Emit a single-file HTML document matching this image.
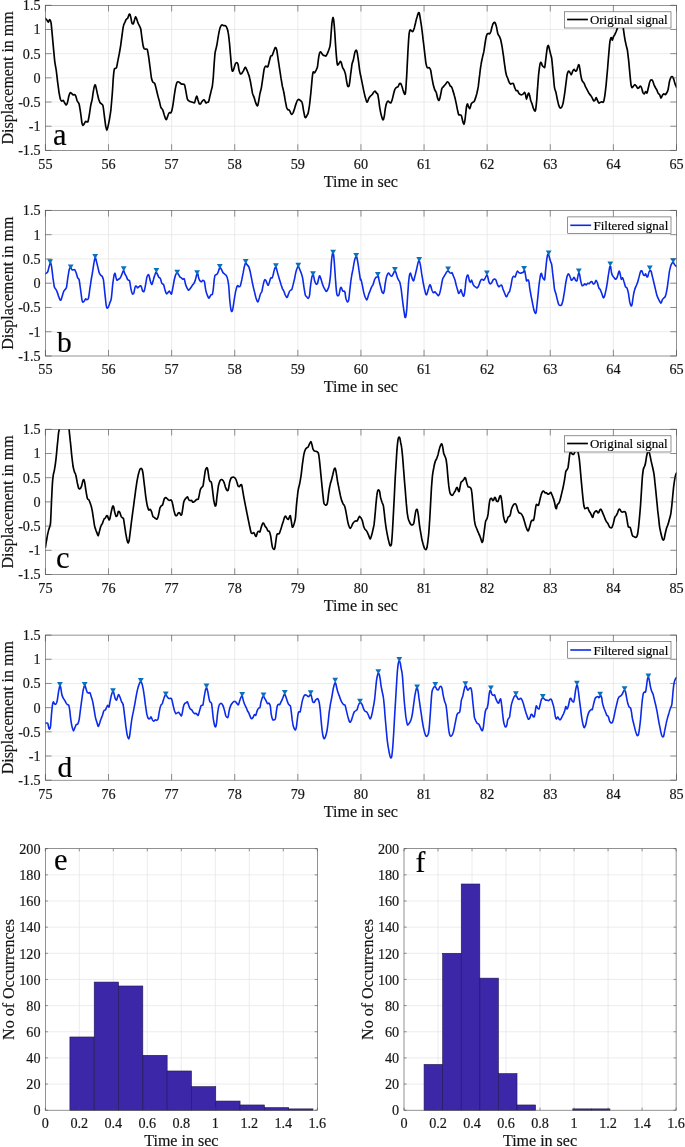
<!DOCTYPE html>
<html lang="en"><head><meta charset="utf-8"><title>Signal figure</title>
<style>html,body{margin:0;padding:0;background:#fff}svg{display:block}text{stroke:#111;stroke-width:0.18px}</style>
</head><body>
<svg width="685" height="1147" viewBox="0 0 685 1147" font-family="'Liberation Serif', 'DejaVu Serif', serif" fill="#151515">
<rect width="685" height="1147" fill="#fff"/>
<g>
<clipPath id="cp0"><rect x="45.4" y="5.3" width="631.1" height="145.1"/></clipPath>
<path d="M108.51,5.3 V150.4 M171.62,5.3 V150.4 M234.73,5.3 V150.4 M297.84,5.3 V150.4 M360.95,5.3 V150.4 M424.06,5.3 V150.4 M487.17,5.3 V150.4 M550.28,5.3 V150.4 M613.39,5.3 V150.4" stroke="#e2e2e2" stroke-width="0.7" fill="none"/>
<path d="M45.4,29.48 H676.5 M45.4,53.67 H676.5 M45.4,77.85 H676.5 M45.4,102.03 H676.5 M45.4,126.22 H676.5" stroke="#e4e4e4" stroke-width="0.7" fill="none"/>
<path d="M45.2,18.2 C45.4,18.5 46.5,19.6 46.9,20.1 C47.3,20.6 47.9,22.3 48.3,22.2 C48.6,22.1 49.3,19.5 49.7,19.6 C50.0,19.7 50.7,20.6 51.1,22.9 C51.4,25.2 52.1,33.5 52.5,37.4 C52.8,41.2 53.6,49.4 53.9,52.6 C54.2,55.7 54.5,59.6 54.8,61.9 C55.1,64.2 55.8,67.5 56.2,70.1 C56.6,72.7 57.2,78.9 57.6,81.8 C58.0,84.6 58.7,90.0 59.0,92.3 C59.4,94.5 60.1,98.1 60.4,99.3 C60.8,100.4 61.5,101.0 61.8,101.1 C62.2,101.3 62.9,100.2 63.2,100.4 C63.6,100.7 64.3,102.2 64.6,102.8 C65.0,103.4 65.7,105.1 66.0,105.1 C66.4,105.1 67.1,103.9 67.4,102.8 C67.8,101.6 68.5,97.5 68.8,96.2 C69.2,94.9 69.9,93.1 70.2,92.7 C70.6,92.4 71.3,93.2 71.6,93.4 C72.0,93.7 72.7,94.7 73.0,94.8 C73.4,95.0 74.1,94.4 74.4,94.6 C74.8,94.8 75.5,95.4 75.8,96.2 C76.2,97.1 76.8,99.9 77.2,100.9 C77.7,101.9 78.7,102.5 79.1,103.9 C79.5,105.4 80.1,109.7 80.5,112.1 C80.9,114.5 81.6,120.9 81.9,122.6 C82.2,124.4 82.5,125.3 82.8,125.4 C83.1,125.6 83.9,124.3 84.2,123.8 C84.6,123.3 85.3,121.7 85.6,121.5 C86.0,121.2 86.7,121.9 87.0,121.9 C87.3,121.9 87.7,122.4 88.0,121.5 C88.3,120.5 89.0,116.6 89.4,114.5 C89.7,112.3 90.4,107.1 90.8,105.1 C91.1,103.1 91.8,101.2 92.2,99.3 C92.5,97.3 93.2,91.8 93.6,89.9 C93.9,88.0 94.7,85.2 95.0,84.8 C95.3,84.4 95.6,85.8 95.9,86.9 C96.2,88.0 97.0,91.8 97.3,93.4 C97.7,95.0 98.4,98.1 98.7,99.3 C99.1,100.5 99.8,102.2 100.1,102.8 C100.5,103.4 101.2,103.6 101.5,103.9 C101.9,104.3 102.6,104.1 102.9,105.6 C103.3,107.1 104.0,112.9 104.3,115.6 C104.7,118.3 105.4,124.2 105.7,126.1 C106.1,128.0 106.6,130.3 106.9,130.3 C107.2,130.3 107.7,127.6 108.1,126.1 C108.4,124.7 109.1,121.2 109.5,119.1 C109.8,117.0 110.5,113.1 110.9,109.8 C111.2,106.4 112.0,97.4 112.3,93.4 C112.6,89.5 113.0,82.5 113.2,79.4 C113.4,76.4 113.9,71.5 114.1,70.1 C114.4,68.6 114.8,68.7 115.1,68.4 C115.4,68.1 116.1,68.7 116.5,67.7 C116.8,66.7 117.5,62.6 117.9,60.7 C118.2,58.9 118.9,55.7 119.3,53.7 C119.6,51.7 120.3,48.0 120.7,45.5 C121.0,43.1 121.7,37.6 122.1,35.0 C122.4,32.5 123.1,27.3 123.5,25.7 C123.8,24.1 124.5,23.3 124.9,22.4 C125.2,21.6 125.9,19.7 126.3,19.2 C126.6,18.6 127.3,18.8 127.7,18.2 C128.1,17.6 128.8,15.0 129.1,14.5 C129.4,14.0 129.8,14.0 130.0,14.5 C130.3,15.0 130.7,17.1 131.0,18.2 C131.2,19.3 131.6,22.2 131.9,22.9 C132.2,23.6 132.9,24.3 133.3,23.8 C133.7,23.3 134.4,20.1 134.7,19.2 C135.0,18.2 135.4,16.9 135.6,16.8 C135.9,16.8 136.3,17.9 136.6,18.7 C136.9,19.5 137.6,22.0 138.0,22.9 C138.3,23.8 139.0,24.9 139.4,25.7 C139.7,26.5 140.5,27.8 140.8,29.2 C141.1,30.6 141.4,34.1 141.7,36.2 C142.0,38.3 142.8,44.0 143.1,45.5 C143.4,47.1 143.7,47.9 144.0,48.4 C144.3,48.8 145.0,48.9 145.4,49.1 C145.9,49.2 146.9,48.5 147.3,49.5 C147.7,50.6 148.3,54.9 148.7,57.2 C149.1,59.6 149.7,65.0 150.1,67.7 C150.5,70.5 151.1,76.4 151.5,78.2 C151.9,80.1 152.5,81.5 152.9,82.2 C153.3,82.9 154.4,82.8 154.8,83.6 C155.2,84.5 155.8,87.3 156.2,88.8 C156.5,90.2 157.2,92.9 157.6,94.6 C158.0,96.3 159.0,99.9 159.5,101.6 C159.9,103.3 160.4,106.4 160.9,107.4 C161.3,108.5 162.3,108.9 162.7,109.8 C163.1,110.7 163.8,113.3 164.1,114.5 C164.5,115.6 165.2,118.0 165.5,118.7 C165.8,119.3 166.2,120.0 166.5,119.6 C166.8,119.2 167.5,116.5 167.9,115.6 C168.2,114.7 168.8,113.0 169.3,112.6 C169.7,112.2 170.7,113.3 171.1,112.6 C171.6,111.9 172.2,109.3 172.5,107.4 C172.9,105.6 173.6,100.5 173.9,98.1 C174.3,95.7 175.0,90.7 175.3,88.8 C175.7,86.8 176.4,83.8 176.7,82.9 C177.0,82.0 177.3,81.8 177.7,81.8 C178.0,81.7 179.1,82.1 179.5,82.5 C180.0,82.8 180.9,83.9 181.4,84.1 C181.9,84.3 182.9,83.9 183.3,84.1 C183.7,84.2 184.3,84.2 184.7,85.3 C185.0,86.3 185.7,90.4 186.1,92.3 C186.4,94.1 187.1,98.1 187.5,99.3 C187.8,100.4 188.5,100.6 188.9,100.9 C189.3,101.2 190.3,101.7 190.8,101.8 C191.2,102.0 192.1,102.2 192.6,102.3 C193.1,102.4 194.1,103.3 194.5,102.8 C194.9,102.2 195.6,99.0 195.9,98.1 C196.2,97.3 196.6,96.1 196.8,96.2 C197.1,96.4 197.5,98.3 197.8,99.3 C198.1,100.2 198.8,102.9 199.2,103.5 C199.5,104.1 200.2,104.2 200.6,103.9 C200.9,103.7 201.6,102.1 202.0,101.6 C202.3,101.1 203.0,100.2 203.4,100.0 C203.7,99.8 204.1,99.6 204.4,100.0 C204.7,100.3 205.4,102.5 205.8,102.8 C206.2,103.1 206.8,102.5 207.2,102.3 C207.6,102.2 208.2,102.5 208.6,101.6 C209.0,100.8 209.6,97.3 210.0,95.8 C210.4,94.2 211.1,91.1 211.4,89.9 C211.7,88.7 212.1,88.1 212.3,86.4 C212.6,84.8 213.0,80.1 213.3,77.1 C213.5,74.0 214.0,66.3 214.2,63.1 C214.5,59.9 214.8,54.7 215.1,52.6 C215.4,50.4 216.2,48.5 216.5,46.7 C216.9,44.9 217.6,40.7 217.9,38.5 C218.3,36.4 219.0,32.0 219.4,30.4 C219.7,28.8 220.4,26.9 220.8,26.2 C221.1,25.4 221.8,24.8 222.2,24.8 C222.5,24.7 223.1,25.6 223.6,25.7 C224.0,25.8 225.0,25.5 225.4,25.7 C225.8,25.9 226.5,26.7 226.8,27.6 C227.2,28.5 227.9,30.5 228.2,32.7 C228.6,34.9 229.3,41.3 229.6,44.4 C229.9,47.4 230.3,53.2 230.6,56.1 C230.8,58.9 231.3,64.6 231.5,66.6 C231.7,68.5 232.1,70.9 232.4,71.2 C232.7,71.5 233.5,69.8 233.8,68.9 C234.2,68.0 234.9,65.1 235.2,64.2 C235.6,63.4 236.3,62.6 236.6,62.6 C237.0,62.6 237.7,63.3 238.0,64.2 C238.3,65.2 238.7,68.8 239.0,70.1 C239.3,71.3 240.0,73.4 240.4,73.8 C240.7,74.2 241.4,73.7 241.8,73.3 C242.1,73.0 242.8,71.9 243.2,71.2 C243.5,70.6 244.3,68.7 244.6,68.2 C244.9,67.7 245.2,67.0 245.5,67.3 C245.8,67.5 246.5,69.3 246.9,70.1 C247.3,70.9 247.9,72.5 248.3,73.6 C248.7,74.6 249.4,76.7 249.7,78.2 C250.1,79.8 250.8,83.3 251.1,85.3 C251.5,87.2 252.2,91.9 252.5,93.4 C252.9,94.9 253.6,95.9 253.9,96.9 C254.3,98.0 255.0,100.5 255.3,101.6 C255.7,102.7 256.4,104.6 256.7,105.1 C257.0,105.6 257.4,106.0 257.7,105.6 C257.9,105.1 258.3,103.2 258.6,101.6 C258.9,100.0 259.6,95.3 260.0,93.4 C260.4,91.6 261.0,89.6 261.4,87.6 C261.8,85.6 262.4,80.7 262.8,78.2 C263.2,75.8 263.8,70.5 264.2,68.9 C264.6,67.3 265.2,66.4 265.6,66.1 C266.0,65.8 266.7,66.7 267.0,66.8 C267.3,66.9 267.6,67.3 267.9,66.6 C268.2,65.8 269.0,62.6 269.3,61.2 C269.7,59.8 270.4,56.8 270.7,56.1 C271.1,55.3 271.8,56.1 272.1,55.6 C272.5,55.0 273.2,52.8 273.5,51.9 C273.9,50.9 274.6,48.7 274.9,48.1 C275.2,47.6 275.6,47.4 275.9,47.6 C276.1,47.9 276.5,48.7 276.8,50.2 C277.1,51.8 277.8,57.1 278.2,59.6 C278.6,62.0 279.2,66.5 279.6,68.9 C280.0,71.3 280.7,76.0 281.0,78.2 C281.4,80.5 282.1,84.6 282.4,86.4 C282.8,88.2 283.5,90.4 283.8,92.3 C284.2,94.1 284.9,98.5 285.2,100.4 C285.6,102.4 286.3,106.2 286.6,107.4 C287.0,108.7 287.7,109.4 288.0,109.8 C288.4,110.1 289.1,109.8 289.4,110.2 C289.8,110.7 290.5,112.7 290.8,113.3 C291.1,113.8 291.5,114.5 291.8,114.5 C292.1,114.4 292.8,113.3 293.2,112.6 C293.5,111.8 294.2,109.7 294.6,108.6 C294.9,107.5 295.6,105.0 296.0,103.9 C296.3,102.9 297.0,101.0 297.4,100.4 C297.7,99.8 298.4,99.3 298.8,99.3 C299.1,99.3 299.7,100.0 300.2,100.4 C300.6,100.8 301.6,101.1 302.0,102.3 C302.5,103.5 303.1,107.9 303.4,109.8 C303.8,111.7 304.5,115.8 304.8,116.8 C305.1,117.8 305.5,117.7 305.8,117.5 C306.1,117.2 306.9,115.5 307.2,114.9 C307.5,114.4 307.8,114.6 308.1,113.3 C308.4,112.0 309.1,107.8 309.5,105.1 C309.9,102.4 310.5,95.9 310.9,92.3 C311.3,88.6 312.0,79.7 312.3,77.1 C312.6,74.4 312.9,72.5 313.2,71.9 C313.6,71.4 314.3,73.1 314.6,72.9 C315.0,72.6 315.7,70.9 316.1,70.1 C316.4,69.3 317.1,68.4 317.5,66.6 C317.8,64.7 318.5,58.0 318.9,56.1 C319.2,54.1 319.9,52.2 320.3,51.9 C320.6,51.5 321.3,52.8 321.7,53.3 C322.0,53.7 322.7,54.8 323.1,55.1 C323.4,55.4 324.1,55.5 324.5,55.6 C324.8,55.7 325.5,56.3 325.9,56.1 C326.2,55.8 326.9,54.5 327.3,53.7 C327.6,53.0 328.3,51.3 328.7,50.2 C329.0,49.2 329.8,47.5 330.1,45.5 C330.4,43.6 330.8,37.9 331.0,35.0 C331.2,32.2 331.7,25.6 331.9,23.4 C332.2,21.1 332.6,17.8 332.9,17.5 C333.1,17.2 333.6,19.2 333.8,21.0 C334.0,22.8 334.5,28.2 334.7,31.5 C335.0,34.9 335.4,43.2 335.7,46.7 C335.9,50.2 336.4,56.0 336.6,58.4 C336.8,60.8 337.2,64.3 337.5,64.9 C337.8,65.6 338.6,64.0 338.9,63.5 C339.3,63.1 340.0,61.6 340.3,61.4 C340.6,61.3 341.0,61.8 341.3,62.6 C341.6,63.4 342.3,66.8 342.7,67.7 C343.0,68.7 343.7,69.2 344.1,70.1 C344.4,70.9 345.1,72.6 345.5,74.3 C345.8,75.9 346.6,81.3 346.9,82.9 C347.2,84.5 347.5,86.1 347.8,86.4 C348.1,86.7 348.9,86.8 349.2,85.3 C349.6,83.7 350.3,77.5 350.6,74.7 C351.0,72.0 351.7,66.2 352.0,64.2 C352.4,62.3 353.1,61.1 353.4,59.6 C353.8,58.0 354.5,53.8 354.8,52.6 C355.2,51.3 355.9,50.2 356.2,50.2 C356.5,50.2 356.9,51.0 357.2,52.6 C357.5,54.1 358.2,59.3 358.6,61.9 C358.9,64.5 359.6,70.4 360.0,72.4 C360.3,74.4 360.7,75.6 361.0,77.1 C361.3,78.6 362.0,82.3 362.4,84.1 C362.8,85.9 363.4,89.4 363.8,91.1 C364.2,92.8 364.8,95.6 365.2,96.9 C365.6,98.3 366.3,101.0 366.6,101.6 C366.9,102.2 367.2,102.3 367.5,101.8 C367.8,101.4 368.6,98.8 368.9,98.1 C369.3,97.4 369.9,96.7 370.3,96.2 C370.8,95.8 371.8,95.1 372.2,94.6 C372.6,94.1 373.2,92.7 373.6,92.3 C374.0,91.8 374.7,91.0 375.0,91.1 C375.4,91.2 376.1,92.5 376.4,93.0 C376.8,93.4 377.5,93.6 377.8,94.6 C378.1,95.6 378.5,98.8 378.8,100.4 C379.0,102.1 379.4,105.6 379.7,107.4 C380.0,109.3 380.7,112.9 381.1,114.5 C381.5,116.0 382.2,118.5 382.5,119.1 C382.8,119.8 383.2,120.0 383.4,119.6 C383.7,119.1 384.1,117.0 384.4,115.6 C384.6,114.2 385.0,110.3 385.3,108.6 C385.6,106.9 386.3,103.7 386.7,102.8 C387.1,101.8 387.7,101.2 388.1,101.1 C388.5,101.1 389.1,102.1 389.5,102.3 C389.9,102.5 390.5,103.2 390.9,102.8 C391.3,102.4 391.9,100.5 392.3,99.3 C392.7,98.1 393.3,94.8 393.7,93.4 C394.1,92.1 394.7,89.5 395.1,88.8 C395.5,88.0 396.1,87.6 396.5,87.4 C396.9,87.1 397.5,87.3 397.9,86.9 C398.3,86.5 399.0,84.5 399.3,84.1 C399.6,83.6 399.9,83.2 400.2,83.4 C400.5,83.5 401.3,84.4 401.6,85.3 C402.0,86.1 402.7,88.8 403.0,89.9 C403.4,91.1 404.1,93.4 404.4,93.9 C404.7,94.4 405.1,95.0 405.4,93.4 C405.6,91.9 406.1,85.4 406.3,81.8 C406.6,78.1 407.0,70.0 407.2,65.4 C407.5,60.8 407.9,50.8 408.2,46.7 C408.4,42.6 408.9,36.1 409.1,33.9 C409.4,31.7 409.7,30.3 410.1,29.9 C410.4,29.5 411.1,30.6 411.5,30.8 C411.8,31.0 412.5,31.9 412.9,31.5 C413.2,31.2 413.9,29.2 414.3,28.0 C414.6,26.8 415.3,23.6 415.7,22.2 C416.0,20.7 416.7,18.0 417.1,16.8 C417.4,15.6 418.2,13.3 418.5,12.8 C418.8,12.4 419.2,12.8 419.4,13.5 C419.6,14.3 420.0,16.8 420.3,18.7 C420.6,20.6 421.4,25.3 421.7,28.0 C422.1,30.8 422.8,36.7 423.1,39.7 C423.5,42.7 424.2,48.4 424.5,51.4 C424.9,54.4 425.6,60.9 425.9,63.1 C426.3,65.2 426.9,67.1 427.3,67.7 C427.8,68.3 428.8,67.4 429.2,67.7 C429.6,68.0 430.2,68.7 430.6,70.1 C431.0,71.4 431.6,76.3 432.0,78.2 C432.4,80.2 433.0,83.7 433.4,85.3 C433.8,86.8 434.4,89.0 434.8,89.9 C435.2,90.8 435.8,91.2 436.2,92.3 C436.6,93.3 437.2,97.0 437.6,98.1 C438.0,99.2 438.7,100.7 439.0,100.4 C439.4,100.1 440.1,97.3 440.4,95.8 C440.8,94.2 441.5,89.9 441.8,88.8 C442.2,87.6 442.9,87.3 443.2,86.9 C443.6,86.4 444.3,85.7 444.6,85.3 C445.0,84.8 445.7,84.1 446.0,83.6 C446.4,83.2 447.1,81.8 447.4,81.8 C447.8,81.7 448.5,82.4 448.8,82.9 C449.2,83.5 449.9,85.4 450.2,86.0 C450.6,86.5 451.3,86.2 451.6,86.9 C452.0,87.6 452.7,89.9 453.0,91.1 C453.4,92.2 454.1,94.4 454.4,95.8 C454.8,97.1 455.5,99.9 455.8,101.6 C456.2,103.3 456.9,106.9 457.2,108.6 C457.6,110.3 458.3,113.6 458.6,114.5 C459.0,115.3 459.7,114.8 460.0,114.9 C460.4,115.1 461.1,114.8 461.4,115.6 C461.8,116.5 462.5,120.3 462.8,121.5 C463.1,122.6 463.5,124.3 463.8,124.3 C464.0,124.3 464.5,122.7 464.7,121.5 C465.0,120.2 465.4,116.4 465.6,114.5 C465.9,112.5 466.3,107.6 466.6,106.3 C466.8,104.9 467.3,103.9 467.5,103.9 C467.8,103.9 468.1,105.7 468.4,106.3 C468.7,106.9 469.5,108.9 469.8,108.6 C470.2,108.3 470.9,104.8 471.2,103.9 C471.6,103.1 472.3,102.6 472.6,102.3 C473.0,102.0 473.7,102.2 474.1,101.6 C474.4,101.1 475.1,99.2 475.5,98.1 C475.8,97.0 476.5,94.9 476.9,93.4 C477.2,91.9 477.9,88.9 478.3,86.4 C478.6,84.0 479.3,77.6 479.7,74.7 C480.0,71.9 480.7,66.5 481.1,64.2 C481.4,62.0 482.1,58.9 482.5,57.2 C482.8,55.6 483.5,53.4 483.9,51.4 C484.2,49.4 484.9,44.2 485.3,42.0 C485.6,39.9 486.3,36.2 486.7,35.0 C487.0,33.9 487.7,33.6 488.1,33.4 C488.4,33.2 489.1,34.1 489.5,33.9 C489.8,33.6 490.5,32.6 490.9,31.5 C491.2,30.5 491.9,26.8 492.3,25.7 C492.6,24.6 493.3,23.3 493.7,22.9 C494.0,22.5 494.7,22.1 495.1,22.7 C495.4,23.2 496.1,25.4 496.5,26.9 C496.8,28.3 497.5,32.7 497.9,33.9 C498.2,35.1 498.9,35.4 499.3,36.2 C499.6,37.0 500.3,38.3 500.7,39.7 C501.0,41.1 501.7,44.6 502.1,46.7 C502.4,48.8 503.1,53.5 503.5,56.1 C503.8,58.6 504.5,64.1 504.9,66.6 C505.2,69.0 505.9,73.2 506.3,74.7 C506.6,76.3 507.3,77.3 507.7,78.2 C508.1,79.2 508.7,81.5 509.1,82.2 C509.5,83.0 510.1,83.9 510.5,84.1 C510.9,84.3 511.5,83.7 511.9,83.6 C512.3,83.6 512.9,83.1 513.3,83.6 C513.7,84.1 514.3,86.7 514.7,87.6 C515.1,88.5 515.7,90.2 516.1,90.6 C516.5,91.0 517.1,90.3 517.5,90.6 C517.9,91.0 518.6,92.9 519.0,93.4 C519.4,93.9 520.0,94.4 520.4,94.6 C520.8,94.8 521.4,94.9 521.8,94.8 C522.2,94.7 522.8,94.2 523.2,93.9 C523.6,93.6 524.3,92.2 524.6,92.3 C524.9,92.4 525.3,93.7 525.5,94.6 C525.8,95.5 526.2,99.3 526.5,99.3 C526.8,99.3 527.6,95.4 527.9,94.6 C528.2,93.8 528.6,92.8 528.8,93.0 C529.1,93.1 529.5,94.8 529.7,95.8 C530.0,96.7 530.4,99.4 530.7,100.4 C531.0,101.5 531.7,102.9 532.1,103.9 C532.4,105.0 533.1,107.7 533.5,108.6 C533.8,109.6 534.6,111.2 534.9,111.2 C535.2,111.2 535.6,110.2 535.8,108.6 C536.1,107.1 536.5,102.2 536.8,99.3 C537.0,96.4 537.4,89.6 537.7,86.4 C537.9,83.2 538.4,77.3 538.6,74.7 C538.9,72.2 539.3,68.1 539.6,66.6 C539.8,65.0 540.2,63.1 540.5,62.6 C540.7,62.1 541.2,62.6 541.4,63.1 C541.7,63.5 542.1,65.4 542.4,65.9 C542.7,66.4 543.5,66.6 543.8,66.8 C544.1,67.0 544.5,68.1 544.7,67.3 C544.9,66.5 545.4,62.6 545.6,60.7 C545.9,58.8 546.3,54.4 546.6,52.6 C546.8,50.7 547.3,47.6 547.5,46.7 C547.7,45.8 548.2,45.2 548.4,45.5 C548.7,45.9 549.1,47.8 549.4,49.1 C549.7,50.3 550.5,53.7 550.8,54.9 C551.1,56.1 551.5,56.7 551.7,58.4 C551.9,60.1 552.4,65.2 552.6,67.7 C552.9,70.3 553.3,75.7 553.6,78.2 C553.8,80.8 554.2,85.8 554.5,87.6 C554.8,89.4 555.5,90.7 555.9,92.3 C556.3,93.8 556.9,97.6 557.3,99.3 C557.7,100.9 558.3,104.0 558.7,105.1 C559.1,106.2 559.7,107.6 560.1,107.9 C560.5,108.2 561.1,108.0 561.5,107.4 C561.9,106.9 562.5,105.5 562.9,103.9 C563.3,102.4 563.9,98.2 564.3,95.8 C564.7,93.3 565.4,88.0 565.7,85.3 C566.1,82.5 566.8,76.6 567.1,74.7 C567.5,72.9 568.2,71.5 568.5,71.2 C568.9,70.9 569.6,72.0 569.9,72.4 C570.3,72.9 571.0,74.9 571.3,74.7 C571.7,74.6 572.4,71.9 572.7,71.2 C573.1,70.5 573.8,69.4 574.1,69.4 C574.5,69.4 575.2,71.1 575.5,71.2 C575.9,71.3 576.6,70.7 576.9,70.1 C577.2,69.5 577.6,67.3 577.9,66.6 C578.1,65.9 578.6,64.5 578.8,64.7 C579.0,64.9 579.5,66.4 579.7,67.7 C580.0,69.0 580.4,73.1 580.7,74.7 C581.0,76.4 581.6,79.5 582.1,80.6 C582.5,81.6 583.5,82.2 583.9,82.9 C584.4,83.7 584.9,85.5 585.3,86.4 C585.8,87.3 586.7,89.0 587.2,89.9 C587.7,90.8 588.6,92.7 589.1,93.4 C589.6,94.2 590.5,95.2 590.9,95.8 C591.4,96.4 592.0,97.4 592.3,98.1 C592.7,98.8 593.4,100.7 593.7,100.9 C594.1,101.1 594.8,100.4 595.1,100.0 C595.4,99.5 595.8,97.6 596.1,97.6 C596.4,97.7 597.1,99.7 597.5,100.4 C597.8,101.1 598.5,102.8 598.9,103.0 C599.2,103.3 599.9,102.5 600.3,102.3 C600.6,102.2 601.3,101.8 601.7,101.8 C602.1,101.8 602.8,102.5 603.1,102.3 C603.4,102.1 603.7,101.9 604.0,100.4 C604.3,99.0 605.1,94.1 605.4,91.1 C605.8,88.1 606.5,81.0 606.8,77.1 C607.2,73.1 607.9,65.0 608.2,60.7 C608.6,56.5 609.3,47.3 609.6,44.4 C609.9,41.5 610.3,39.4 610.6,38.5 C610.8,37.7 611.3,37.6 611.5,37.8 C611.7,38.1 612.2,40.3 612.4,40.2 C612.7,40.1 613.1,37.6 613.4,36.9 C613.7,36.2 614.4,35.3 614.8,34.6 C615.1,33.9 615.8,32.4 616.2,31.5 C616.5,30.6 617.2,28.6 617.6,27.6 C617.9,26.5 618.6,24.2 619.0,23.4 C619.3,22.5 620.0,21.2 620.4,21.0 C620.7,20.9 621.4,21.3 621.8,22.2 C622.1,23.0 622.8,25.6 623.2,27.6 C623.5,29.5 624.2,35.2 624.6,37.4 C624.9,39.6 625.6,42.7 626.0,44.4 C626.3,46.0 627.0,47.9 627.4,50.2 C627.7,52.5 628.4,58.4 628.8,61.9 C629.1,65.4 629.9,74.0 630.2,77.1 C630.5,80.1 630.9,83.9 631.1,85.3 C631.4,86.6 631.7,87.5 632.1,87.6 C632.4,87.7 633.1,86.4 633.5,86.0 C633.8,85.6 634.5,84.6 634.9,84.6 C635.2,84.6 635.9,85.5 636.3,86.0 C636.6,86.4 637.3,88.1 637.7,88.3 C638.0,88.5 638.7,87.9 639.1,87.6 C639.4,87.3 640.1,85.8 640.5,86.0 C640.8,86.1 641.6,87.9 641.9,88.8 C642.2,89.6 642.5,91.6 642.8,92.3 C643.1,92.9 643.8,94.0 644.2,93.9 C644.6,93.8 645.2,91.7 645.6,91.6 C646.0,91.4 646.6,93.5 647.0,93.0 C647.4,92.4 648.0,89.0 648.4,87.6 C648.8,86.1 649.4,82.8 649.8,81.8 C650.2,80.7 650.8,80.0 651.2,79.9 C651.6,79.7 652.2,80.0 652.6,80.6 C653.0,81.2 653.6,83.6 654.0,84.6 C654.4,85.5 655.0,86.9 655.4,87.6 C655.8,88.3 656.4,89.2 656.8,89.9 C657.2,90.7 657.8,92.8 658.2,93.4 C658.6,94.0 659.2,94.0 659.6,94.6 C660.0,95.2 660.7,98.0 661.0,98.1 C661.4,98.2 662.1,95.8 662.4,95.3 C662.8,94.8 663.5,94.0 663.8,93.9 C664.2,93.8 664.9,94.7 665.2,94.6 C665.6,94.5 666.3,93.6 666.6,93.0 C667.0,92.4 667.7,91.4 668.0,89.9 C668.4,88.5 669.1,83.4 669.4,81.8 C669.8,80.1 670.5,78.2 670.8,77.5 C671.2,76.9 671.9,76.4 672.2,76.6 C672.6,76.8 673.3,78.0 673.6,78.9 C674.0,79.9 674.6,82.5 675.0,83.6 C675.4,84.7 676.5,87.1 676.7,87.6" stroke="#000" stroke-width="1.68" fill="none" stroke-linejoin="round" stroke-linecap="round" clip-path="url(#cp0)"/>
<path d="M45.40,150.4 v-6.2 M45.40,5.3 v6.2 M108.51,150.4 v-6.2 M108.51,5.3 v6.2 M171.62,150.4 v-6.2 M171.62,5.3 v6.2 M234.73,150.4 v-6.2 M234.73,5.3 v6.2 M297.84,150.4 v-6.2 M297.84,5.3 v6.2 M360.95,150.4 v-6.2 M360.95,5.3 v6.2 M424.06,150.4 v-6.2 M424.06,5.3 v6.2 M487.17,150.4 v-6.2 M487.17,5.3 v6.2 M550.28,150.4 v-6.2 M550.28,5.3 v6.2 M613.39,150.4 v-6.2 M613.39,5.3 v6.2 M676.50,150.4 v-6.2 M676.50,5.3 v6.2 M45.4,5.30 h6.2 M676.5,5.30 h-6.2 M45.4,29.48 h6.2 M676.5,29.48 h-6.2 M45.4,53.67 h6.2 M676.5,53.67 h-6.2 M45.4,77.85 h6.2 M676.5,77.85 h-6.2 M45.4,102.03 h6.2 M676.5,102.03 h-6.2 M45.4,126.22 h6.2 M676.5,126.22 h-6.2 M45.4,150.40 h6.2 M676.5,150.40 h-6.2" stroke="#4a4a4a" stroke-width="0.6" fill="none"/>
<rect x="45.4" y="5.3" width="631.1" height="145.1" fill="none" stroke="#4a4a4a" stroke-width="0.6"/>
<g font-size="14.2" text-anchor="middle">
<text x="45.4" y="168.8">55</text>
<text x="108.5" y="168.8">56</text>
<text x="171.6" y="168.8">57</text>
<text x="234.7" y="168.8">58</text>
<text x="297.8" y="168.8">59</text>
<text x="360.9" y="168.8">60</text>
<text x="424.1" y="168.8">61</text>
<text x="487.2" y="168.8">62</text>
<text x="550.3" y="168.8">63</text>
<text x="613.4" y="168.8">64</text>
<text x="676.5" y="168.8">65</text>
</g>
<g font-size="14.2" text-anchor="end">
<text x="40.6" y="10.2">1.5</text>
<text x="40.6" y="34.4">1</text>
<text x="40.6" y="58.6">0.5</text>
<text x="40.6" y="82.8">0</text>
<text x="40.6" y="106.9">-0.5</text>
<text x="40.6" y="131.1">-1</text>
<text x="40.6" y="155.3">-1.5</text>
</g>
<text x="360.9" y="186.7" font-size="16.0" text-anchor="middle">Time in sec</text>
<text transform="translate(13.3,77.9) rotate(-90)" font-size="16.0" text-anchor="middle">Displacement in mm</text>
<text x="53.0" y="144.7" font-size="30.5" fill="#000">a</text>
<rect x="564.5" y="11.8" width="106.5" height="16.2" fill="#fff" stroke="#4a4a4a" stroke-width="0.6"/>
<path d="M567.1,19.5 h20.8" stroke="#000" stroke-width="1.68" fill="none"/>
<text x="589.9" y="24.2" font-size="13.0" fill="#000">Original signal</text>
</g>
<g>
<clipPath id="cp1"><rect x="45.4" y="210.4" width="631.1" height="145.6"/></clipPath>
<path d="M108.51,210.4 V356.0 M171.62,210.4 V356.0 M234.73,210.4 V356.0 M297.84,210.4 V356.0 M360.95,210.4 V356.0 M424.06,210.4 V356.0 M487.17,210.4 V356.0 M550.28,210.4 V356.0 M613.39,210.4 V356.0" stroke="#e2e2e2" stroke-width="0.7" fill="none"/>
<path d="M45.4,234.67 H676.5 M45.4,258.93 H676.5 M45.4,283.20 H676.5 M45.4,307.47 H676.5 M45.4,331.73 H676.5" stroke="#e4e4e4" stroke-width="0.7" fill="none"/>
<path d="M45.0,273.9 C45.2,273.8 46.0,273.5 46.4,273.2 C46.8,272.9 47.4,272.5 47.8,271.6 C48.2,270.7 48.8,267.4 49.2,266.2 C49.6,265.0 50.3,262.2 50.6,262.2 C50.9,262.2 51.2,264.2 51.5,266.2 C51.8,268.2 52.6,274.7 52.9,277.4 C53.3,280.1 54.0,285.2 54.3,286.8 C54.7,288.3 55.4,288.4 55.7,289.1 C56.1,289.8 56.8,291.0 57.1,291.9 C57.5,292.8 58.2,295.1 58.5,296.1 C58.9,297.1 59.6,299.1 59.9,299.6 C60.3,300.1 60.6,300.5 60.9,300.1 C61.2,299.6 61.9,297.2 62.3,296.1 C62.6,295.0 63.3,292.3 63.7,291.4 C64.1,290.6 64.7,290.1 65.1,289.6 C65.5,289.0 66.1,288.8 66.5,287.2 C66.9,285.6 67.5,279.7 67.9,277.4 C68.3,275.1 68.9,270.5 69.3,269.2 C69.7,268.0 70.3,267.5 70.7,267.6 C71.1,267.7 71.7,269.7 72.1,269.9 C72.5,270.2 73.1,269.7 73.5,269.7 C73.9,269.7 74.5,269.5 74.9,269.9 C75.3,270.4 75.9,272.2 76.3,273.2 C76.7,274.2 77.3,277.0 77.7,277.9 C78.1,278.7 78.7,278.3 79.1,279.7 C79.5,281.2 80.1,286.5 80.5,289.1 C80.9,291.7 81.6,297.9 81.9,299.6 C82.2,301.3 82.5,302.0 82.8,302.2 C83.1,302.4 83.9,301.7 84.2,301.2 C84.6,300.8 85.3,299.1 85.6,298.9 C86.0,298.7 86.7,299.9 87.0,299.8 C87.4,299.8 88.1,299.8 88.4,298.4 C88.8,297.0 89.5,291.5 89.8,289.1 C90.2,286.7 90.9,282.0 91.2,279.7 C91.6,277.5 92.3,273.8 92.6,271.6 C93.0,269.3 93.7,264.0 94.1,262.2 C94.4,260.4 94.9,257.7 95.2,257.6 C95.5,257.4 96.1,259.8 96.4,261.1 C96.7,262.3 97.4,265.4 97.8,266.9 C98.2,268.4 98.8,271.7 99.2,272.7 C99.6,273.8 100.2,274.6 100.6,275.1 C101.0,275.5 101.6,275.6 102.0,276.2 C102.4,276.8 103.0,277.6 103.4,279.7 C103.8,281.9 104.4,289.3 104.8,292.6 C105.2,295.9 105.9,303.4 106.2,305.4 C106.5,307.5 106.8,308.1 107.1,308.2 C107.4,308.4 108.2,307.3 108.5,306.6 C108.9,305.9 109.6,303.7 109.9,302.6 C110.3,301.6 111.0,300.8 111.3,298.4 C111.7,296.1 112.4,287.5 112.7,284.4 C113.1,281.4 113.8,276.5 114.1,275.1 C114.4,273.6 114.8,273.1 115.1,273.4 C115.3,273.7 115.8,276.5 116.0,277.4 C116.3,278.3 116.6,280.0 116.9,280.2 C117.2,280.5 118.0,279.5 118.3,279.3 C118.7,279.1 119.4,279.0 119.7,278.6 C120.1,278.2 120.8,277.0 121.1,276.2 C121.5,275.5 122.2,273.5 122.5,272.7 C122.9,272.0 123.4,270.2 123.7,270.4 C124.0,270.6 124.5,273.1 124.9,273.9 C125.2,274.7 125.9,275.5 126.3,276.2 C126.6,277.0 127.3,279.1 127.7,279.7 C128.1,280.4 129.1,279.7 129.6,280.9 C130.0,282.1 130.6,287.4 131.0,289.1 C131.3,290.8 132.0,293.2 132.4,293.8 C132.7,294.3 133.4,294.2 133.8,293.3 C134.1,292.4 134.8,287.7 135.2,286.8 C135.5,285.8 136.3,286.1 136.6,286.3 C136.9,286.4 137.2,287.9 137.5,287.9 C137.8,288.0 138.5,287.0 138.9,286.8 C139.3,286.5 140.0,285.9 140.3,285.8 C140.6,285.8 140.9,285.6 141.2,286.3 C141.5,287.0 142.3,290.3 142.6,291.0 C143.0,291.6 143.7,292.1 144.0,291.4 C144.4,290.7 145.1,287.4 145.4,285.6 C145.8,283.8 146.5,278.8 146.8,277.4 C147.2,276.0 147.9,274.8 148.2,274.6 C148.5,274.5 148.9,275.3 149.2,276.2 C149.5,277.2 150.2,281.0 150.6,282.1 C150.9,283.1 151.6,284.7 152.0,284.4 C152.3,284.1 153.0,281.0 153.4,279.7 C153.7,278.5 154.4,276.1 154.8,275.1 C155.1,274.1 155.8,272.1 156.2,272.0 C156.5,272.0 157.2,273.9 157.6,274.6 C157.9,275.3 158.6,276.9 159.0,277.4 C159.3,277.9 160.0,277.8 160.4,278.6 C160.8,279.3 161.4,282.4 161.8,283.2 C162.2,284.1 163.2,284.0 163.7,284.9 C164.1,285.8 164.7,289.1 165.1,290.3 C165.4,291.4 166.1,293.5 166.5,293.8 C166.8,294.1 167.5,293.0 167.9,292.6 C168.2,292.2 168.9,290.9 169.3,291.0 C169.6,291.0 170.4,292.9 170.7,293.3 C171.0,293.7 171.3,294.6 171.6,293.8 C171.9,292.9 172.6,288.6 173.0,286.8 C173.4,284.9 174.0,280.9 174.4,279.3 C174.8,277.7 175.4,275.2 175.8,274.4 C176.2,273.5 176.8,272.7 177.2,272.7 C177.6,272.8 178.2,274.1 178.6,274.6 C179.0,275.2 179.6,276.5 180.0,276.9 C180.4,277.4 181.0,277.6 181.4,277.9 C181.8,278.2 182.4,279.2 182.8,279.3 C183.2,279.4 183.8,278.1 184.2,278.8 C184.6,279.5 185.2,283.2 185.6,284.4 C186.0,285.6 186.7,287.2 187.0,287.9 C187.4,288.7 188.1,290.1 188.4,290.3 C188.8,290.4 189.5,289.5 189.8,289.1 C190.2,288.7 190.9,287.8 191.2,287.2 C191.6,286.7 192.3,285.4 192.6,284.9 C193.0,284.4 193.7,283.9 194.0,283.2 C194.4,282.6 195.1,280.9 195.4,279.7 C195.8,278.6 196.5,275.1 196.8,274.4 C197.1,273.6 197.5,273.4 197.8,273.9 C198.0,274.4 198.4,277.0 198.7,277.9 C199.0,278.8 199.7,280.4 200.1,280.9 C200.5,281.4 201.1,281.7 201.5,281.6 C201.9,281.5 202.5,280.2 202.9,280.2 C203.3,280.2 204.0,280.3 204.4,281.6 C204.8,282.9 205.4,288.5 205.8,290.3 C206.2,292.0 206.8,293.9 207.2,294.9 C207.6,295.9 208.3,297.6 208.6,298.0 C208.9,298.3 209.2,297.9 209.5,297.5 C209.8,297.1 210.6,295.3 210.9,294.9 C211.3,294.5 212.0,295.2 212.3,294.5 C212.6,293.7 213.0,291.0 213.3,289.1 C213.5,287.2 214.0,281.6 214.2,279.7 C214.5,277.9 214.8,275.7 215.1,275.1 C215.4,274.4 216.2,274.9 216.5,274.6 C216.9,274.3 217.6,273.5 217.9,272.7 C218.3,271.9 219.0,269.2 219.4,268.5 C219.7,267.9 220.0,267.4 220.3,267.6 C220.6,267.8 221.3,269.3 221.7,269.9 C222.1,270.6 222.7,272.2 223.1,272.7 C223.5,273.3 224.1,273.6 224.5,273.9 C224.9,274.2 225.5,274.6 225.9,275.1 C226.3,275.6 226.9,276.5 227.3,277.9 C227.7,279.2 228.4,282.9 228.7,285.6 C229.0,288.3 229.4,295.6 229.6,298.4 C229.9,301.3 230.3,305.6 230.6,307.3 C230.8,309.0 231.3,310.9 231.5,311.3 C231.7,311.7 232.2,311.3 232.4,310.6 C232.7,309.8 233.1,307.3 233.4,305.4 C233.7,303.6 234.4,298.2 234.8,296.1 C235.1,294.0 235.8,290.5 236.2,289.1 C236.5,287.7 237.2,285.9 237.6,285.6 C237.9,285.3 238.6,286.8 239.0,286.8 C239.3,286.8 240.0,286.5 240.4,285.6 C240.7,284.7 241.4,281.4 241.8,279.7 C242.1,278.1 242.8,274.6 243.2,272.7 C243.5,270.9 244.2,267.0 244.6,265.7 C244.9,264.5 245.4,263.1 245.7,262.9 C246.0,262.8 246.5,264.0 246.9,264.6 C247.3,265.1 248.4,266.0 248.8,266.9 C249.2,267.8 249.8,270.1 250.2,271.6 C250.5,273.1 251.2,276.8 251.6,278.6 C251.9,280.4 252.6,283.9 253.0,285.6 C253.3,287.3 254.0,289.9 254.4,291.4 C254.8,292.9 255.4,296.0 255.8,297.3 C256.2,298.5 256.9,300.7 257.2,301.2 C257.5,301.8 257.8,302.2 258.1,301.7 C258.4,301.2 259.2,298.3 259.5,297.3 C259.8,296.2 260.2,294.5 260.5,293.8 C260.8,293.0 261.5,292.6 261.9,291.4 C262.2,290.2 262.9,285.9 263.3,284.4 C263.6,282.9 264.3,280.2 264.7,279.7 C265.0,279.3 265.7,280.3 266.1,280.9 C266.4,281.5 267.2,283.9 267.5,284.4 C267.8,285.0 268.1,285.6 268.4,285.1 C268.7,284.7 269.5,281.9 269.8,280.9 C270.1,280.0 270.4,278.3 270.7,277.9 C271.0,277.5 271.8,278.2 272.1,277.9 C272.4,277.5 272.8,276.2 273.1,275.1 C273.4,273.9 274.1,270.3 274.5,269.2 C274.8,268.2 275.6,266.8 275.9,266.9 C276.2,267.0 276.5,268.9 276.8,269.9 C277.1,271.0 277.8,273.8 278.2,275.1 C278.6,276.3 279.2,278.5 279.6,279.7 C280.0,281.0 280.7,283.3 281.0,284.4 C281.4,285.6 282.1,287.8 282.4,288.6 C282.8,289.5 283.5,290.1 283.8,291.0 C284.2,291.8 284.9,294.1 285.2,294.9 C285.6,295.7 286.3,297.1 286.6,297.3 C286.9,297.5 287.3,297.2 287.6,296.6 C287.9,296.0 288.6,293.4 289.0,292.6 C289.3,291.8 290.0,290.7 290.4,290.3 C290.7,289.9 291.4,290.3 291.8,289.6 C292.1,288.8 292.8,285.8 293.2,284.4 C293.5,283.0 294.2,280.2 294.6,278.6 C294.9,276.9 295.6,273.0 296.0,271.6 C296.3,270.1 297.1,268.3 297.4,267.6 C297.7,266.9 298.0,266.0 298.3,266.2 C298.6,266.4 299.3,268.4 299.7,269.2 C300.1,270.1 300.7,271.7 301.1,272.7 C301.5,273.8 302.1,275.6 302.5,277.4 C302.9,279.2 303.5,284.5 303.9,286.8 C304.3,289.0 304.9,293.6 305.3,294.9 C305.7,296.2 306.3,296.3 306.7,296.8 C307.1,297.3 307.7,298.6 308.1,298.4 C308.5,298.3 309.2,297.1 309.5,295.6 C309.8,294.1 310.1,289.1 310.4,286.8 C310.7,284.4 311.5,279.0 311.8,277.4 C312.2,275.8 312.5,274.5 312.8,274.4 C313.0,274.2 313.5,275.4 313.7,276.2 C314.0,277.1 314.3,279.9 314.6,280.9 C315.0,281.9 315.7,283.6 316.1,283.9 C316.4,284.3 317.1,284.3 317.5,283.5 C317.8,282.6 318.6,278.4 318.9,277.4 C319.2,276.4 319.5,275.5 319.8,275.8 C320.1,276.1 320.8,278.6 321.2,279.7 C321.6,280.9 322.2,283.4 322.6,284.4 C323.0,285.5 323.6,287.2 324.0,287.9 C324.4,288.7 325.1,289.8 325.4,290.3 C325.7,290.7 326.0,291.5 326.3,291.4 C326.6,291.3 327.4,290.3 327.7,289.6 C328.1,288.8 328.8,287.5 329.1,285.6 C329.5,283.7 330.2,278.3 330.5,275.1 C330.8,271.9 331.2,263.8 331.5,261.1 C331.7,258.3 332.2,255.1 332.4,254.1 C332.6,253.0 332.9,252.6 333.1,252.9 C333.3,253.2 333.6,254.4 333.8,256.4 C334.0,258.4 334.5,264.7 334.7,268.1 C335.0,271.4 335.4,278.9 335.7,282.1 C335.9,285.3 336.4,290.8 336.6,292.6 C336.8,294.4 337.2,295.3 337.5,295.6 C337.8,295.9 338.6,295.8 338.9,294.9 C339.3,294.0 340.0,289.6 340.3,288.6 C340.6,287.6 341.0,287.1 341.3,287.5 C341.6,287.8 342.3,290.5 342.7,291.0 C343.0,291.4 343.8,290.7 344.1,291.0 C344.4,291.2 344.8,291.6 345.0,292.6 C345.3,293.6 345.6,297.2 345.9,298.4 C346.3,299.6 347.0,301.8 347.4,301.9 C347.7,302.1 348.4,301.6 348.8,299.6 C349.1,297.6 349.8,289.8 350.2,286.8 C350.5,283.7 351.2,278.5 351.6,276.2 C351.9,274.0 352.6,271.2 353.0,269.2 C353.3,267.3 354.0,262.7 354.4,261.1 C354.7,259.4 355.5,257.4 355.8,256.9 C356.1,256.3 356.5,256.3 356.7,256.9 C356.9,257.4 357.3,259.3 357.6,261.1 C357.9,262.8 358.7,268.0 359.0,270.4 C359.4,272.8 360.2,278.6 360.4,279.7 C360.7,280.9 360.7,278.5 361.0,279.3 C361.3,280.0 362.0,283.9 362.4,285.6 C362.8,287.3 363.4,291.1 363.8,292.6 C364.2,294.1 364.8,296.3 365.2,297.3 C365.6,298.2 366.3,299.7 366.6,299.8 C366.9,300.0 367.2,299.2 367.5,298.4 C367.8,297.6 368.6,294.8 368.9,293.8 C369.3,292.7 370.0,291.2 370.3,290.3 C370.7,289.3 371.4,287.5 371.7,286.8 C372.1,286.0 372.8,285.3 373.1,284.4 C373.5,283.5 374.2,280.7 374.5,279.7 C374.9,278.8 375.6,277.8 375.9,277.4 C376.3,277.0 377.0,277.1 377.4,276.9 C377.7,276.8 378.0,275.7 378.3,276.2 C378.5,276.8 378.9,279.5 379.2,280.9 C379.5,282.3 380.3,285.3 380.6,286.8 C381.0,288.2 381.7,291.0 382.0,291.9 C382.4,292.7 383.1,293.5 383.4,293.3 C383.7,293.1 384.1,291.6 384.4,290.3 C384.6,288.9 385.0,285.1 385.3,283.2 C385.6,281.4 386.3,277.5 386.7,276.2 C387.1,274.9 387.8,273.6 388.1,273.2 C388.4,272.8 388.7,273.1 389.0,273.4 C389.3,273.7 390.1,275.2 390.4,275.5 C390.8,275.9 391.5,276.5 391.8,276.2 C392.2,276.0 392.9,274.6 393.2,273.9 C393.6,273.2 394.3,271.4 394.6,271.1 C394.9,270.8 395.3,270.9 395.6,271.6 C395.9,272.2 396.6,275.2 397.0,276.2 C397.3,277.3 398.0,279.0 398.4,279.7 C398.7,280.5 399.4,280.9 399.8,282.1 C400.1,283.3 400.8,286.7 401.2,289.1 C401.5,291.5 402.2,297.9 402.6,300.8 C402.9,303.7 403.7,309.2 404.0,311.3 C404.3,313.4 404.7,316.4 404.9,317.1 C405.2,317.8 405.6,317.7 405.8,316.6 C406.1,315.6 406.5,311.8 406.8,308.9 C407.0,306.1 407.5,298.4 407.7,294.9 C408.0,291.4 408.4,284.7 408.6,282.1 C408.9,279.4 409.3,275.8 409.6,274.6 C409.8,273.5 410.3,273.0 410.5,273.2 C410.8,273.4 411.1,275.3 411.5,276.2 C411.8,277.2 412.6,279.7 412.9,280.2 C413.2,280.8 413.5,281.1 413.8,280.4 C414.1,279.8 414.8,276.5 415.2,275.1 C415.6,273.6 416.2,270.8 416.6,269.2 C417.0,267.7 417.7,264.1 418.0,262.9 C418.3,261.8 418.9,260.4 419.2,260.6 C419.5,260.8 420.0,262.8 420.3,264.6 C420.7,266.3 421.4,271.6 421.7,273.9 C422.1,276.2 422.8,280.1 423.1,282.1 C423.5,284.1 424.2,287.5 424.5,289.1 C424.9,290.7 425.6,293.8 425.9,294.5 C426.2,295.1 426.6,294.9 426.9,294.2 C427.2,293.6 427.9,290.8 428.3,289.6 C428.6,288.3 429.4,285.4 429.7,284.9 C430.0,284.4 430.3,284.9 430.6,285.6 C430.9,286.3 431.6,289.3 432.0,290.3 C432.4,291.2 433.0,292.6 433.4,292.8 C433.8,293.0 434.4,291.8 434.8,291.9 C435.2,292.0 435.8,292.9 436.2,293.3 C436.6,293.7 437.3,294.6 437.6,294.9 C437.9,295.2 438.2,295.9 438.5,295.6 C438.9,295.3 439.6,293.9 439.9,292.6 C440.3,291.3 441.0,287.4 441.4,285.6 C441.7,283.8 442.4,279.8 442.8,278.6 C443.1,277.4 443.8,276.8 444.2,276.2 C444.5,275.6 445.2,274.5 445.6,273.9 C445.9,273.3 446.6,271.9 447.0,271.6 C447.3,271.2 448.0,271.0 448.4,271.1 C448.7,271.3 449.4,272.5 449.8,272.7 C450.1,273.0 450.9,273.2 451.2,273.2 C451.5,273.2 451.8,272.3 452.1,272.7 C452.4,273.1 453.1,275.3 453.5,276.2 C453.9,277.2 454.5,278.5 454.9,279.7 C455.3,281.0 455.9,284.2 456.3,285.6 C456.7,287.0 457.4,289.3 457.7,290.3 C458.0,291.3 458.3,293.1 458.6,293.3 C458.9,293.5 459.7,292.4 460.0,291.9 C460.3,291.4 460.7,289.5 461.0,289.6 C461.2,289.6 461.6,291.7 461.9,292.6 C462.2,293.4 463.0,295.8 463.3,296.1 C463.6,296.4 464.0,296.0 464.2,294.9 C464.5,293.9 464.9,289.9 465.2,287.9 C465.4,285.9 465.8,281.4 466.1,279.7 C466.4,278.1 467.2,275.5 467.5,275.1 C467.8,274.6 468.2,275.5 468.4,276.2 C468.7,277.0 469.1,280.2 469.4,280.9 C469.7,281.7 470.5,282.2 470.8,282.1 C471.1,282.0 471.4,279.9 471.7,280.2 C472.0,280.5 472.8,283.6 473.1,284.4 C473.5,285.2 474.2,285.9 474.5,286.3 C474.9,286.6 475.6,287.0 475.9,287.2 C476.3,287.4 477.0,288.1 477.3,287.9 C477.7,287.7 478.4,286.4 478.7,285.6 C479.1,284.8 479.8,282.4 480.1,281.6 C480.5,280.8 481.2,279.5 481.5,279.3 C481.9,279.0 482.6,279.6 482.9,279.7 C483.2,279.9 483.6,280.5 483.9,280.2 C484.2,280.0 484.9,278.5 485.3,277.9 C485.6,277.2 486.4,275.3 486.7,275.1 C487.0,274.9 487.3,275.3 487.6,276.2 C487.9,277.2 488.6,281.1 489.0,282.1 C489.4,283.1 490.0,283.9 490.4,283.9 C490.8,284.0 491.4,283.1 491.8,282.5 C492.2,282.0 492.8,280.2 493.2,279.7 C493.6,279.3 494.2,279.0 494.6,279.0 C495.0,279.1 495.6,279.5 496.0,280.2 C496.4,280.9 497.0,283.6 497.4,284.4 C497.8,285.3 498.4,286.6 498.8,286.8 C499.2,286.9 499.8,285.8 500.2,285.6 C500.6,285.4 501.2,284.7 501.6,285.1 C502.0,285.6 502.7,288.1 503.0,289.1 C503.4,290.1 504.1,291.7 504.4,292.6 C504.8,293.5 505.5,295.6 505.8,296.1 C506.1,296.6 506.4,296.9 506.8,296.6 C507.1,296.2 507.8,294.0 508.2,293.3 C508.5,292.6 509.2,292.4 509.6,291.4 C509.9,290.4 510.6,287.3 511.0,285.6 C511.3,283.8 512.0,279.1 512.4,277.9 C512.7,276.7 513.4,276.4 513.8,276.2 C514.1,276.1 514.8,277.4 515.2,276.9 C515.5,276.5 516.3,273.5 516.6,272.7 C516.9,272.0 517.2,271.1 517.5,271.1 C517.8,271.1 518.6,272.5 519.0,272.7 C519.4,273.0 520.0,273.2 520.4,273.2 C520.8,273.2 521.4,272.9 521.8,272.7 C522.2,272.6 522.8,272.6 523.2,272.3 C523.6,272.0 524.3,270.0 524.6,270.4 C524.9,270.8 525.3,273.7 525.5,275.1 C525.8,276.4 526.2,280.3 526.5,280.9 C526.8,281.5 527.6,279.7 527.9,279.7 C528.2,279.7 528.6,279.8 528.8,280.9 C529.1,282.0 529.4,285.9 529.7,287.9 C530.0,289.9 530.8,294.1 531.1,296.1 C531.5,298.1 532.2,301.3 532.5,303.1 C532.9,304.9 533.6,308.8 533.9,310.1 C534.3,311.4 535.0,313.2 535.4,313.4 C535.7,313.5 536.0,313.2 536.3,311.3 C536.6,309.3 537.3,301.9 537.7,298.4 C538.1,294.9 538.7,287.5 539.1,284.4 C539.5,281.4 540.2,276.5 540.5,275.1 C540.8,273.6 541.2,273.2 541.4,273.4 C541.7,273.7 542.1,276.2 542.4,276.9 C542.7,277.7 543.5,279.0 543.8,279.3 C544.1,279.6 544.5,280.4 544.7,279.3 C544.9,278.1 545.4,272.8 545.6,270.4 C545.9,268.0 546.3,263.0 546.6,261.1 C546.8,259.1 547.3,256.1 547.5,255.2 C547.7,254.3 548.2,253.7 548.4,254.1 C548.7,254.4 549.1,256.5 549.4,257.6 C549.7,258.6 550.5,261.3 550.8,262.2 C551.1,263.1 551.5,263.2 551.7,264.6 C551.9,265.9 552.4,270.6 552.6,272.7 C552.9,274.9 553.3,278.8 553.6,280.9 C553.8,283.0 554.2,287.4 554.5,289.1 C554.8,290.8 555.5,292.4 555.9,293.8 C556.3,295.1 556.9,298.2 557.3,299.6 C557.7,301.0 558.3,303.5 558.7,304.3 C559.1,305.0 559.7,305.3 560.1,305.4 C560.5,305.5 561.1,305.6 561.5,305.0 C561.9,304.4 562.5,302.4 562.9,300.8 C563.3,299.2 563.9,294.9 564.3,292.6 C564.7,290.3 565.4,285.4 565.7,283.2 C566.1,281.1 566.8,277.5 567.1,276.2 C567.5,275.0 568.2,273.9 568.5,273.9 C568.9,273.9 569.6,275.4 569.9,276.2 C570.3,277.1 571.0,279.8 571.3,280.2 C571.7,280.6 572.4,279.6 572.7,279.3 C573.1,278.9 573.8,277.3 574.1,277.4 C574.5,277.5 575.2,279.8 575.5,280.2 C575.9,280.7 576.6,281.4 576.9,280.9 C577.2,280.4 577.6,277.3 577.9,276.2 C578.1,275.2 578.6,272.9 578.8,272.7 C579.0,272.6 579.5,274.0 579.7,275.1 C580.0,276.1 580.4,279.5 580.7,280.9 C581.0,282.3 581.7,285.0 582.1,285.6 C582.4,286.1 583.1,285.3 583.5,285.1 C583.8,284.9 584.5,284.0 584.9,283.9 C585.2,283.9 585.9,285.0 586.3,284.9 C586.6,284.8 587.3,283.4 587.7,283.2 C588.0,283.1 588.7,283.9 589.1,283.7 C589.4,283.6 590.1,282.4 590.5,282.1 C590.8,281.8 591.5,281.4 591.9,281.6 C592.2,281.9 592.9,283.7 593.3,283.9 C593.6,284.2 594.3,283.7 594.7,283.2 C595.0,282.8 595.7,280.2 596.1,280.2 C596.4,280.2 597.1,282.2 597.5,283.2 C597.8,284.3 598.5,287.1 598.9,287.9 C599.2,288.7 599.9,288.9 600.3,289.6 C600.6,290.3 601.3,292.3 601.7,293.3 C602.1,294.3 602.8,296.7 603.1,297.3 C603.4,297.8 603.7,298.1 604.0,297.5 C604.3,296.9 605.1,294.1 605.4,292.6 C605.8,291.0 606.5,287.7 606.8,285.6 C607.2,283.5 607.9,278.6 608.2,276.2 C608.6,273.9 609.3,268.9 609.6,267.6 C609.9,266.3 610.3,265.5 610.6,266.2 C610.8,266.9 611.2,271.4 611.5,272.7 C611.8,274.0 612.5,275.6 612.9,276.2 C613.3,276.9 613.9,277.5 614.3,277.9 C614.7,278.3 615.3,279.3 615.7,279.3 C616.1,279.2 616.7,278.3 617.1,277.4 C617.5,276.6 618.2,273.6 618.5,272.7 C618.8,271.9 619.2,270.8 619.4,271.1 C619.7,271.4 620.1,274.0 620.4,275.1 C620.6,276.1 621.0,278.9 621.3,279.3 C621.6,279.6 622.3,277.5 622.7,277.9 C623.1,278.2 623.7,280.9 624.1,282.1 C624.5,283.2 625.1,286.0 625.5,286.8 C625.9,287.5 626.5,287.2 626.9,287.9 C627.3,288.7 627.9,290.8 628.3,292.6 C628.7,294.4 629.4,300.2 629.7,301.9 C630.1,303.7 630.8,305.6 631.1,305.9 C631.4,306.2 631.7,305.7 632.1,304.3 C632.4,302.8 633.1,296.9 633.5,294.9 C633.8,293.0 634.5,290.3 634.9,289.1 C635.2,287.9 635.9,286.5 636.3,285.6 C636.6,284.7 637.3,283.2 637.7,282.1 C638.0,281.0 638.7,278.3 639.1,276.9 C639.4,275.6 640.1,272.4 640.5,271.6 C640.8,270.8 641.5,270.5 641.9,270.9 C642.2,271.3 642.9,274.0 643.3,274.6 C643.6,275.2 644.4,275.6 644.7,275.5 C645.0,275.4 645.3,273.7 645.6,273.9 C645.9,274.1 646.7,276.6 647.0,276.9 C647.3,277.2 647.7,276.8 647.9,276.2 C648.2,275.6 648.6,273.0 648.9,272.3 C649.2,271.5 650.0,270.5 650.3,270.4 C650.6,270.3 650.9,270.7 651.2,271.6 C651.5,272.5 652.2,275.9 652.6,277.4 C653.0,278.9 653.6,281.7 654.0,283.2 C654.4,284.8 655.0,287.6 655.4,289.1 C655.8,290.6 656.4,293.7 656.8,294.9 C657.2,296.1 657.8,297.6 658.2,298.4 C658.6,299.3 659.2,300.6 659.6,301.2 C660.0,301.8 660.7,303.3 661.0,303.1 C661.4,302.9 662.1,300.3 662.4,299.6 C662.8,298.9 663.5,298.4 663.8,298.0 C664.2,297.6 664.9,297.4 665.2,296.6 C665.6,295.7 666.3,293.3 666.6,291.4 C667.0,289.5 667.7,284.7 668.0,282.1 C668.4,279.5 669.1,273.7 669.4,271.6 C669.8,269.4 670.5,266.9 670.8,265.7 C671.2,264.6 671.9,263.4 672.2,262.9 C672.5,262.5 672.9,262.0 673.2,262.2 C673.5,262.4 674.2,264.0 674.6,264.6 C674.9,265.1 675.6,265.9 676.0,266.2 C676.3,266.5 677.0,266.8 677.1,266.9" stroke="#0b2aea" stroke-width="1.60" fill="none" stroke-linejoin="round" stroke-linecap="round" clip-path="url(#cp1)"/>
<path d="M47.2,259.2 l5.8,0 l-2.9,5.0 z M67.8,264.6 l5.8,0 l-2.9,5.0 z M92.3,254.1 l5.8,0 l-2.9,5.0 z M120.8,266.2 l5.8,0 l-2.9,5.0 z M153.5,268.1 l5.8,0 l-2.9,5.0 z M174.3,269.7 l5.8,0 l-2.9,5.0 z M194.2,270.2 l5.8,0 l-2.9,5.0 z M216.9,264.1 l5.8,0 l-2.9,5.0 z M242.8,259.0 l5.8,0 l-2.9,5.0 z M273.0,263.2 l5.8,0 l-2.9,5.0 z M295.4,262.7 l5.8,0 l-2.9,5.0 z M310.1,271.3 l5.8,0 l-2.9,5.0 z M330.2,249.8 l5.8,0 l-2.9,5.0 z M353.3,252.9 l5.8,0 l-2.9,5.0 z M374.9,272.0 l5.8,0 l-2.9,5.0 z M392.0,266.9 l5.8,0 l-2.9,5.0 z M416.3,257.1 l5.8,0 l-2.9,5.0 z M445.2,266.4 l5.8,0 l-2.9,5.0 z M484.0,270.6 l5.8,0 l-2.9,5.0 z M521.2,266.0 l5.8,0 l-2.9,5.0 z M545.8,250.5 l5.8,0 l-2.9,5.0 z M575.9,268.5 l5.8,0 l-2.9,5.0 z M607.4,261.5 l5.8,0 l-2.9,5.0 z M646.9,265.5 l5.8,0 l-2.9,5.0 z M670.3,258.3 l5.8,0 l-2.9,5.0 z" fill="#0a72bd" stroke="none"/>
<path d="M45.40,356.0 v-6.2 M45.40,210.4 v6.2 M108.51,356.0 v-6.2 M108.51,210.4 v6.2 M171.62,356.0 v-6.2 M171.62,210.4 v6.2 M234.73,356.0 v-6.2 M234.73,210.4 v6.2 M297.84,356.0 v-6.2 M297.84,210.4 v6.2 M360.95,356.0 v-6.2 M360.95,210.4 v6.2 M424.06,356.0 v-6.2 M424.06,210.4 v6.2 M487.17,356.0 v-6.2 M487.17,210.4 v6.2 M550.28,356.0 v-6.2 M550.28,210.4 v6.2 M613.39,356.0 v-6.2 M613.39,210.4 v6.2 M676.50,356.0 v-6.2 M676.50,210.4 v6.2 M45.4,210.40 h6.2 M676.5,210.40 h-6.2 M45.4,234.67 h6.2 M676.5,234.67 h-6.2 M45.4,258.93 h6.2 M676.5,258.93 h-6.2 M45.4,283.20 h6.2 M676.5,283.20 h-6.2 M45.4,307.47 h6.2 M676.5,307.47 h-6.2 M45.4,331.73 h6.2 M676.5,331.73 h-6.2 M45.4,356.00 h6.2 M676.5,356.00 h-6.2" stroke="#4a4a4a" stroke-width="0.6" fill="none"/>
<rect x="45.4" y="210.4" width="631.1" height="145.6" fill="none" stroke="#4a4a4a" stroke-width="0.6"/>
<g font-size="14.2" text-anchor="middle">
<text x="45.4" y="374.4">55</text>
<text x="108.5" y="374.4">56</text>
<text x="171.6" y="374.4">57</text>
<text x="234.7" y="374.4">58</text>
<text x="297.8" y="374.4">59</text>
<text x="360.9" y="374.4">60</text>
<text x="424.1" y="374.4">61</text>
<text x="487.2" y="374.4">62</text>
<text x="550.3" y="374.4">63</text>
<text x="613.4" y="374.4">64</text>
<text x="676.5" y="374.4">65</text>
</g>
<g font-size="14.2" text-anchor="end">
<text x="40.6" y="215.3">1.5</text>
<text x="40.6" y="239.6">1</text>
<text x="40.6" y="263.8">0.5</text>
<text x="40.6" y="288.1">0</text>
<text x="40.6" y="312.4">-0.5</text>
<text x="40.6" y="336.6">-1</text>
<text x="40.6" y="360.9">-1.5</text>
</g>
<text x="360.9" y="392.3" font-size="16.0" text-anchor="middle">Time in sec</text>
<text transform="translate(13.3,283.2) rotate(-90)" font-size="16.0" text-anchor="middle">Displacement in mm</text>
<text x="56.9" y="352.0" font-size="29.5" fill="#000">b</text>
<rect x="567.7" y="216.9" width="103.3" height="16.6" fill="#fff" stroke="#4a4a4a" stroke-width="0.6"/>
<path d="M570.3,225.3 h20.8" stroke="#0b2aea" stroke-width="1.60" fill="none"/>
<text x="593.5" y="229.8" font-size="13.0" fill="#000">Filtered signal</text>
</g>
<g>
<clipPath id="cp2"><rect x="45.4" y="429.3" width="631.1" height="145.2"/></clipPath>
<path d="M108.51,429.3 V574.5 M171.62,429.3 V574.5 M234.73,429.3 V574.5 M297.84,429.3 V574.5 M360.95,429.3 V574.5 M424.06,429.3 V574.5 M487.17,429.3 V574.5 M550.28,429.3 V574.5 M613.39,429.3 V574.5" stroke="#e2e2e2" stroke-width="0.7" fill="none"/>
<path d="M45.4,453.50 H676.5 M45.4,477.70 H676.5 M45.4,501.90 H676.5 M45.4,526.10 H676.5 M45.4,550.30 H676.5" stroke="#e4e4e4" stroke-width="0.7" fill="none"/>
<path d="M45.5,547.1 C45.6,546.0 46.5,540.5 46.9,538.5 C47.2,536.4 47.9,533.0 48.3,531.4 C48.6,529.9 49.4,528.0 49.7,526.8 C50.0,525.6 50.4,525.4 50.6,522.1 C50.8,518.8 51.3,506.2 51.5,501.1 C51.8,495.9 52.2,485.9 52.5,482.4 C52.7,478.9 53.2,475.7 53.4,474.2 C53.7,472.7 54.0,472.4 54.3,470.7 C54.6,469.0 55.4,464.4 55.7,461.4 C56.1,458.3 56.8,451.0 57.1,447.4 C57.5,443.7 58.3,435.7 58.5,433.3 C58.8,431.0 58.9,432.1 59.2,429.4 C59.6,426.6 60.2,416.1 60.9,412.3 C61.5,408.6 63.3,400.6 64.2,400.6 C65.0,400.6 66.8,408.6 67.4,412.3 C68.1,416.1 68.7,425.7 69.1,429.4 C69.4,433.0 69.9,437.1 70.2,440.4 C70.6,443.6 71.3,451.0 71.6,454.4 C72.0,457.7 72.7,463.8 73.0,466.0 C73.4,468.3 74.1,470.7 74.4,471.9 C74.8,473.0 75.5,473.6 75.8,474.9 C76.2,476.3 76.9,480.7 77.2,482.4 C77.6,484.1 78.3,487.4 78.6,488.2 C79.0,489.1 79.7,488.9 80.0,488.7 C80.4,488.5 81.1,487.6 81.4,486.6 C81.8,485.6 82.5,482.1 82.8,481.2 C83.1,480.3 83.5,479.4 83.8,479.6 C84.0,479.7 84.4,480.8 84.7,482.4 C85.0,484.0 85.7,489.6 86.1,491.7 C86.5,493.9 87.1,497.7 87.5,498.7 C87.9,499.8 88.5,499.3 88.9,499.9 C89.3,500.5 89.9,502.4 90.3,503.4 C90.7,504.5 91.4,506.4 91.7,508.1 C92.1,509.8 92.8,514.0 93.1,516.3 C93.5,518.5 94.2,523.8 94.5,525.6 C94.9,527.4 95.6,529.2 95.9,530.3 C96.3,531.3 97.0,533.1 97.3,533.8 C97.6,534.5 98.0,536.1 98.3,535.6 C98.6,535.2 99.3,531.6 99.7,530.3 C100.0,529.0 100.7,526.5 101.1,525.6 C101.4,524.7 102.1,524.1 102.5,523.3 C102.8,522.5 103.5,520.0 103.9,519.3 C104.2,518.6 104.9,518.6 105.3,518.1 C105.6,517.7 106.4,516.0 106.7,515.8 C107.0,515.6 107.3,515.7 107.6,516.3 C107.9,516.8 108.7,519.5 109.0,519.8 C109.3,520.1 109.6,519.7 109.9,518.6 C110.2,517.5 111.0,513.2 111.3,511.6 C111.7,510.0 112.4,506.8 112.7,506.2 C113.0,505.6 113.4,506.2 113.7,506.9 C113.9,507.6 114.3,510.4 114.6,511.6 C114.9,512.8 115.6,515.8 116.0,516.3 C116.4,516.7 117.1,515.7 117.4,515.1 C117.7,514.5 118.0,512.0 118.3,511.6 C118.6,511.2 119.4,511.7 119.7,512.3 C120.1,512.9 120.8,515.5 121.1,516.3 C121.5,517.0 122.2,517.6 122.5,517.9 C122.9,518.2 123.2,517.7 123.5,518.6 C123.7,519.4 124.1,522.5 124.4,524.4 C124.7,526.4 125.5,531.7 125.8,533.8 C126.2,535.9 126.9,539.6 127.2,540.8 C127.5,542.0 127.9,543.1 128.2,543.1 C128.4,543.1 128.8,542.0 129.1,540.8 C129.3,539.6 129.7,536.2 130.0,533.8 C130.3,531.4 131.1,525.0 131.4,522.1 C131.8,519.2 132.5,514.3 132.8,511.6 C133.2,508.9 133.9,503.8 134.2,501.1 C134.6,498.3 135.3,493.2 135.6,490.6 C136.0,488.0 136.7,483.4 137.0,481.2 C137.4,479.1 138.1,475.7 138.4,474.2 C138.8,472.7 139.5,470.3 139.8,469.5 C140.2,468.8 140.9,468.4 141.2,468.4 C141.5,468.4 141.9,468.8 142.2,469.5 C142.4,470.3 142.8,472.1 143.1,474.2 C143.4,476.3 144.1,482.9 144.5,485.9 C144.9,488.9 145.5,495.0 145.9,497.6 C146.3,500.2 146.9,504.1 147.3,505.8 C147.7,507.4 148.3,509.5 148.7,510.0 C149.1,510.4 149.7,509.0 150.1,509.3 C150.5,509.5 151.1,510.7 151.5,511.6 C151.9,512.5 152.5,515.5 152.9,516.3 C153.3,517.0 153.9,517.1 154.3,517.4 C154.7,517.7 155.4,518.4 155.7,518.6 C156.1,518.8 156.8,519.5 157.1,519.1 C157.5,518.6 158.2,516.5 158.5,515.1 C158.9,513.7 159.6,509.3 159.9,508.1 C160.3,506.9 161.0,506.2 161.3,505.8 C161.7,505.3 162.4,505.4 162.7,504.6 C163.1,503.7 163.8,500.1 164.1,499.2 C164.5,498.3 165.2,497.7 165.5,497.6 C165.9,497.5 166.6,498.0 166.9,498.3 C167.3,498.6 168.0,499.6 168.3,499.9 C168.7,500.2 169.4,500.4 169.7,500.4 C170.1,500.4 170.8,499.5 171.1,499.9 C171.5,500.3 172.2,502.0 172.5,503.4 C172.9,504.8 173.6,508.9 173.9,510.4 C174.3,511.9 175.0,514.4 175.3,515.1 C175.7,515.8 176.4,515.8 176.7,515.6 C177.1,515.3 177.8,513.6 178.1,513.2 C178.5,512.9 179.2,512.5 179.5,512.8 C179.9,513.0 180.6,514.9 180.9,515.1 C181.2,515.2 181.6,514.8 181.9,513.9 C182.1,513.0 182.6,509.6 182.8,508.1 C183.1,506.6 183.4,503.4 183.7,502.2 C184.0,501.1 184.8,499.8 185.1,499.2 C185.5,498.6 186.2,497.9 186.5,497.6 C186.9,497.3 187.2,496.6 187.5,496.9 C187.8,497.2 188.5,499.4 188.9,499.9 C189.2,500.4 189.9,500.6 190.3,500.6 C190.6,500.7 191.4,500.2 191.7,500.4 C192.0,500.6 192.3,502.1 192.6,502.2 C192.9,502.4 193.7,502.0 194.0,501.8 C194.4,501.6 195.1,500.9 195.4,500.6 C195.8,500.3 196.5,499.6 196.8,499.4 C197.2,499.3 197.9,499.8 198.2,499.2 C198.5,498.7 198.9,496.4 199.2,495.2 C199.4,494.1 199.9,491.5 200.1,490.6 C200.3,489.7 200.8,488.7 201.0,488.2 C201.3,487.8 201.7,487.4 202.0,487.1 C202.2,486.8 202.7,486.8 203.0,485.9 C203.3,485.0 203.6,482.0 203.9,480.1 C204.2,478.1 205.0,472.3 205.3,470.7 C205.7,469.1 206.4,467.8 206.7,467.7 C207.0,467.5 207.4,468.1 207.7,469.5 C208.0,471.0 208.8,477.4 209.1,478.9 C209.4,480.4 209.7,480.8 210.0,481.2 C210.3,481.7 211.1,481.5 211.4,482.4 C211.7,483.3 212.0,486.0 212.3,488.2 C212.6,490.5 213.4,497.6 213.7,499.9 C214.1,502.2 214.8,505.1 215.1,505.8 C215.4,506.4 215.8,505.8 216.1,504.6 C216.3,503.4 216.7,498.8 217.0,496.4 C217.3,494.0 218.1,487.9 218.4,485.9 C218.8,483.9 219.5,482.0 219.8,481.2 C220.2,480.4 220.9,479.7 221.2,479.6 C221.6,479.4 222.3,479.7 222.6,480.1 C223.0,480.4 223.7,481.5 224.0,482.4 C224.4,483.3 225.1,486.1 225.4,487.1 C225.8,488.1 226.5,489.7 226.8,490.1 C227.2,490.5 227.9,491.1 228.2,490.1 C228.6,489.1 229.3,483.9 229.6,482.4 C230.0,480.8 230.7,478.9 231.0,478.2 C231.4,477.5 232.1,477.4 232.4,477.3 C232.8,477.1 233.5,477.1 233.8,477.3 C234.2,477.4 234.9,477.7 235.2,478.2 C235.6,478.7 236.3,480.2 236.6,481.2 C237.0,482.2 237.7,485.2 238.0,485.9 C238.4,486.6 239.1,486.8 239.4,486.6 C239.8,486.4 240.5,484.9 240.8,484.7 C241.1,484.5 241.5,484.4 241.8,485.2 C242.0,486.0 242.4,488.8 242.7,490.6 C243.0,492.3 243.7,496.8 244.1,498.7 C244.5,500.7 245.1,503.9 245.5,505.8 C245.9,507.6 246.5,510.9 246.9,512.8 C247.3,514.6 247.9,517.9 248.3,519.8 C248.7,521.6 249.4,525.1 249.7,526.8 C250.1,528.4 250.8,531.8 251.1,532.6 C251.5,533.5 252.2,533.3 252.5,533.3 C252.9,533.3 253.6,532.3 253.9,532.6 C254.3,532.9 255.0,535.2 255.3,535.6 C255.6,536.1 256.0,536.6 256.3,536.1 C256.6,535.6 257.3,532.5 257.7,531.9 C258.0,531.3 258.8,531.4 259.1,531.4 C259.4,531.4 259.7,532.5 260.0,531.9 C260.3,531.3 261.0,527.9 261.4,526.8 C261.8,525.7 262.5,523.7 262.8,523.3 C263.1,522.8 263.4,522.9 263.7,523.3 C264.0,523.7 264.8,525.7 265.1,526.3 C265.5,526.9 266.2,527.3 266.5,527.9 C266.9,528.5 267.6,530.5 267.9,531.0 C268.3,531.4 269.0,530.8 269.3,531.4 C269.7,532.1 270.4,534.6 270.7,536.1 C271.0,537.6 271.4,541.6 271.7,543.1 C271.9,544.6 272.3,547.0 272.6,547.8 C272.9,548.6 273.7,549.4 274.0,549.4 C274.3,549.4 274.7,548.9 274.9,547.8 C275.2,546.7 275.6,542.5 275.9,540.8 C276.1,539.1 276.6,535.9 276.8,534.9 C277.1,534.0 277.4,533.9 277.7,533.8 C278.0,533.6 278.8,534.2 279.1,533.8 C279.5,533.3 280.2,531.3 280.5,530.3 C280.9,529.2 281.6,526.8 281.9,525.6 C282.3,524.4 283.0,522.1 283.4,520.9 C283.7,519.8 284.4,517.3 284.8,516.7 C285.1,516.1 285.4,516.0 285.7,516.3 C286.0,516.5 286.7,518.2 287.1,518.6 C287.5,519.0 288.2,519.5 288.5,519.3 C288.8,519.1 289.2,517.4 289.4,517.0 C289.7,516.5 290.1,515.3 290.4,515.8 C290.6,516.3 291.0,519.5 291.3,520.9 C291.5,522.4 292.0,526.1 292.2,526.8 C292.5,527.5 292.9,526.9 293.2,526.3 C293.5,525.7 294.3,523.3 294.6,522.1 C294.9,520.9 295.3,519.6 295.5,517.4 C295.7,515.3 296.2,508.5 296.4,505.8 C296.7,503.0 297.1,498.5 297.4,496.4 C297.6,494.3 298.0,491.1 298.3,489.4 C298.6,487.7 299.3,485.4 299.7,483.6 C300.1,481.7 300.7,478.0 301.1,475.4 C301.5,472.8 302.1,466.4 302.5,463.7 C302.9,461.0 303.5,456.2 303.9,454.4 C304.3,452.5 304.9,450.5 305.3,449.7 C305.7,448.8 306.3,448.2 306.7,447.8 C307.1,447.5 307.7,447.4 308.1,446.9 C308.5,446.4 309.1,444.6 309.5,443.9 C309.9,443.2 310.6,441.5 310.9,441.5 C311.2,441.5 311.6,442.9 311.8,443.9 C312.1,444.8 312.5,447.6 312.8,448.5 C313.1,449.4 313.8,450.5 314.2,450.9 C314.5,451.2 315.2,451.2 315.6,451.3 C315.9,451.4 316.6,451.3 317.0,451.6 C317.3,451.8 318.1,452.2 318.4,453.2 C318.7,454.2 319.1,457.1 319.3,459.0 C319.6,461.0 320.0,466.0 320.3,468.4 C320.5,470.8 320.9,475.3 321.2,477.7 C321.4,480.2 321.9,484.6 322.1,487.1 C322.4,489.5 322.8,494.3 323.1,496.4 C323.3,498.5 323.7,502.3 324.0,503.4 C324.3,504.5 325.0,504.9 325.4,505.1 C325.8,505.2 326.5,505.1 326.8,504.6 C327.1,504.1 327.5,502.6 327.7,501.1 C328.0,499.6 328.4,495.0 328.7,492.9 C329.0,490.8 329.7,486.4 330.1,484.7 C330.4,483.1 331.1,481.4 331.5,480.1 C331.8,478.7 332.5,475.7 332.9,474.2 C333.2,472.8 334.0,469.6 334.3,468.8 C334.6,468.1 335.0,468.0 335.2,468.4 C335.4,468.8 335.8,470.2 336.1,471.9 C336.4,473.6 337.2,479.1 337.5,481.2 C337.9,483.4 338.6,486.4 338.9,488.2 C339.3,490.1 340.0,493.6 340.3,495.2 C340.7,496.9 341.4,499.5 341.7,500.6 C342.1,501.7 342.8,503.2 343.1,503.9 C343.5,504.6 344.2,504.7 344.5,505.8 C344.9,506.8 345.6,509.8 345.9,511.6 C346.3,513.4 347.0,517.9 347.4,519.8 C347.7,521.6 348.4,524.5 348.8,525.6 C349.1,526.7 349.8,528.3 350.2,528.4 C350.5,528.5 351.2,527.0 351.6,526.3 C351.9,525.6 352.6,523.9 353.0,523.3 C353.3,522.7 354.0,521.9 354.4,521.6 C354.7,521.3 355.4,521.0 355.8,520.9 C356.1,520.8 356.8,521.3 357.2,520.9 C357.5,520.5 358.3,518.5 358.6,517.9 C358.9,517.3 359.3,516.3 359.5,516.3 C359.7,516.2 360.2,517.2 360.4,517.4 C360.6,517.6 360.7,517.4 361.0,517.9 C361.3,518.4 362.0,519.8 362.4,520.9 C362.8,522.1 363.4,525.7 363.8,526.8 C364.2,527.9 364.8,529.0 365.2,529.6 C365.6,530.1 366.2,530.4 366.6,531.0 C367.0,531.5 367.6,533.0 368.0,533.8 C368.4,534.6 369.1,536.6 369.4,537.3 C369.7,538.0 370.0,539.2 370.3,538.9 C370.6,538.6 371.4,536.2 371.7,534.9 C372.1,533.7 372.8,530.5 373.1,529.1 C373.4,527.7 373.8,526.3 374.1,524.4 C374.3,522.6 374.8,517.7 375.0,515.1 C375.3,512.5 375.7,507.2 375.9,504.6 C376.2,502.0 376.6,497.1 376.9,495.2 C377.1,493.4 377.6,491.3 377.8,490.6 C378.1,489.9 378.5,489.7 378.8,489.9 C379.0,490.0 379.4,490.7 379.7,491.7 C379.9,492.7 380.3,496.2 380.6,497.6 C380.9,498.9 381.7,501.2 382.0,502.2 C382.4,503.3 383.1,504.2 383.4,505.8 C383.7,507.3 384.1,511.8 384.4,513.9 C384.6,516.1 385.0,519.8 385.3,522.1 C385.6,524.4 386.3,529.3 386.7,531.4 C387.1,533.6 387.7,536.8 388.1,538.5 C388.5,540.1 389.2,543.3 389.5,544.3 C389.8,545.3 390.2,545.9 390.4,545.9 C390.7,545.9 391.1,545.9 391.4,544.3 C391.6,542.7 392.1,537.3 392.3,533.8 C392.5,530.3 393.0,522.0 393.2,517.4 C393.5,512.9 393.9,503.6 394.2,498.7 C394.4,493.9 394.9,484.5 395.1,480.1 C395.3,475.7 395.8,468.8 396.0,464.9 C396.3,460.9 396.7,452.9 397.0,449.7 C397.2,446.5 397.7,442.0 397.9,440.4 C398.1,438.7 398.6,437.6 398.8,437.3 C399.1,437.0 399.5,437.3 399.8,438.0 C400.0,438.7 400.5,441.5 400.7,442.7 C401.0,443.9 401.4,445.5 401.6,447.4 C401.9,449.2 402.3,454.0 402.6,456.7 C402.8,459.4 403.3,465.3 403.5,468.4 C403.8,471.4 404.2,477.0 404.4,480.1 C404.7,483.1 405.1,488.7 405.4,491.7 C405.6,494.8 406.1,500.7 406.3,503.4 C406.6,506.1 407.0,510.8 407.2,512.8 C407.5,514.7 407.9,517.4 408.2,518.6 C408.5,519.8 409.2,521.3 409.6,522.1 C409.9,522.9 410.6,524.1 411.0,524.4 C411.3,524.8 412.0,525.1 412.4,524.9 C412.8,524.8 413.5,524.2 413.8,523.3 C414.1,522.3 414.5,518.9 414.7,517.4 C415.0,515.9 415.4,512.7 415.7,511.6 C415.9,510.5 416.3,509.4 416.6,509.3 C416.8,509.1 417.3,509.5 417.5,510.4 C417.8,511.3 418.2,514.4 418.5,516.3 C418.7,518.1 419.2,522.6 419.4,524.4 C419.6,526.3 420.0,528.5 420.3,530.3 C420.6,532.1 421.4,536.6 421.7,538.5 C422.1,540.3 422.8,543.0 423.1,544.3 C423.5,545.6 424.2,547.6 424.5,548.3 C424.9,549.0 425.6,549.7 425.9,549.7 C426.2,549.6 426.6,548.8 426.9,547.8 C427.1,546.8 427.6,543.8 427.8,542.0 C428.0,540.1 428.5,536.7 428.7,533.8 C429.0,530.9 429.4,523.7 429.7,519.8 C429.9,515.8 430.4,507.7 430.6,503.4 C430.8,499.2 431.3,490.7 431.5,487.1 C431.8,483.4 432.2,478.0 432.5,475.4 C432.8,472.8 433.5,469.0 433.9,467.2 C434.2,465.4 434.9,462.5 435.3,461.4 C435.6,460.2 436.3,459.5 436.7,458.6 C437.0,457.7 437.7,455.7 438.1,454.4 C438.4,453.1 439.1,449.8 439.5,448.5 C439.8,447.3 440.6,445.2 440.9,444.6 C441.2,443.9 441.6,443.5 441.8,443.9 C442.1,444.2 442.5,446.1 442.8,447.4 C443.0,448.6 443.4,452.0 443.7,453.2 C444.0,454.4 444.8,455.9 445.1,456.7 C445.4,457.5 445.8,457.8 446.0,459.0 C446.3,460.3 446.7,463.8 447.0,466.0 C447.2,468.3 447.6,474.0 447.9,476.6 C448.1,479.1 448.6,483.9 448.8,485.9 C449.1,487.9 449.5,491.1 449.8,492.2 C450.1,493.4 450.8,494.4 451.2,494.8 C451.5,495.2 452.2,495.5 452.6,495.2 C452.9,495.0 453.6,493.5 454.0,492.9 C454.3,492.3 455.1,491.2 455.4,490.6 C455.7,490.0 456.1,488.6 456.3,488.2 C456.5,487.8 457.0,487.3 457.2,487.5 C457.5,487.8 457.9,489.6 458.2,490.1 C458.4,490.6 458.9,492.1 459.1,491.7 C459.3,491.3 459.8,488.3 460.0,487.1 C460.3,485.9 460.7,483.2 461.0,482.4 C461.3,481.6 462.0,481.6 462.4,481.2 C462.7,480.9 463.5,480.0 463.8,479.6 C464.1,479.1 464.5,477.9 464.7,477.7 C465.0,477.5 465.4,477.6 465.6,478.2 C465.9,478.8 466.3,481.3 466.6,482.4 C466.9,483.5 467.6,486.0 468.0,486.6 C468.3,487.2 469.0,486.9 469.4,487.1 C469.7,487.3 470.5,487.6 470.8,488.2 C471.1,488.8 471.5,490.1 471.7,491.7 C472.0,493.4 472.4,498.5 472.6,501.1 C472.9,503.7 473.3,509.0 473.6,511.6 C473.8,514.2 474.3,519.1 474.5,520.9 C474.8,522.8 475.1,524.5 475.5,525.6 C475.8,526.7 476.5,528.2 476.9,529.1 C477.2,530.0 477.9,531.8 478.3,532.6 C478.6,533.5 479.3,534.7 479.7,535.6 C480.0,536.6 480.8,538.7 481.1,539.6 C481.4,540.5 481.7,542.3 482.0,542.4 C482.2,542.6 482.7,541.9 482.9,540.8 C483.2,539.7 483.6,535.6 483.9,533.8 C484.1,532.0 484.6,528.4 484.8,526.8 C485.0,525.1 485.4,522.0 485.7,520.9 C486.0,519.9 486.8,519.5 487.1,518.6 C487.4,517.7 487.8,515.6 488.1,513.9 C488.3,512.3 488.8,507.6 489.0,505.8 C489.2,503.9 489.7,500.9 489.9,499.9 C490.2,498.9 490.6,498.4 490.9,498.3 C491.1,498.1 491.6,498.4 491.8,498.7 C492.0,499.0 492.5,500.5 492.7,500.6 C493.0,500.8 493.4,500.3 493.7,499.9 C493.9,499.5 494.4,497.8 494.6,497.6 C494.8,497.3 495.3,497.6 495.5,498.0 C495.8,498.5 496.2,500.6 496.5,501.1 C496.8,501.5 497.6,501.8 497.9,501.5 C498.2,501.3 498.6,499.9 498.8,499.2 C499.1,498.5 499.5,496.9 499.7,496.4 C500.0,496.0 500.4,495.3 500.7,495.7 C500.9,496.2 501.4,498.3 501.6,499.9 C501.9,501.5 502.3,506.0 502.5,508.1 C502.8,510.2 503.2,514.5 503.5,516.3 C503.8,518.0 504.6,520.8 504.9,521.6 C505.2,522.5 505.5,522.8 505.8,522.6 C506.1,522.3 506.9,520.5 507.2,519.8 C507.5,519.0 507.8,517.4 508.2,517.0 C508.5,516.5 509.3,516.7 509.6,516.3 C509.9,515.9 510.2,514.8 510.5,513.9 C510.7,513.0 511.1,510.3 511.4,509.3 C511.7,508.2 512.5,506.4 512.8,505.8 C513.2,505.1 513.9,504.4 514.2,504.1 C514.6,503.9 515.3,503.7 515.6,503.9 C515.9,504.1 516.3,505.1 516.6,505.8 C516.8,506.5 517.2,508.3 517.5,509.3 C517.8,510.2 518.6,512.2 519.0,512.8 C519.4,513.3 520.0,513.0 520.4,513.2 C520.8,513.5 521.4,514.1 521.8,514.6 C522.2,515.2 522.8,516.5 523.2,517.4 C523.6,518.4 524.2,520.9 524.6,522.1 C525.0,523.3 525.6,525.7 526.0,526.8 C526.4,527.8 527.1,529.8 527.4,530.3 C527.7,530.8 528.0,531.2 528.3,530.7 C528.6,530.3 529.4,528.0 529.7,526.8 C530.1,525.6 530.8,522.5 531.1,521.6 C531.4,520.8 531.8,520.4 532.1,520.2 C532.4,520.1 533.2,520.7 533.5,520.2 C533.8,519.7 534.2,517.7 534.4,516.3 C534.7,514.8 535.1,510.8 535.4,509.3 C535.6,507.7 536.0,505.1 536.3,504.6 C536.6,504.1 537.4,505.2 537.7,505.3 C538.0,505.3 538.4,505.6 538.6,505.1 C538.9,504.5 539.3,502.4 539.6,501.1 C539.9,499.8 540.6,496.5 541.0,495.2 C541.3,494.0 542.0,492.3 542.4,491.7 C542.7,491.2 543.4,491.1 543.8,491.3 C544.1,491.4 544.8,492.7 545.2,492.9 C545.5,493.1 546.2,492.8 546.6,492.9 C546.9,493.1 547.6,494.0 548.0,494.1 C548.3,494.2 549.0,493.8 549.4,493.6 C549.7,493.4 550.5,492.4 550.8,492.4 C551.1,492.5 551.4,493.4 551.7,494.1 C552.0,494.7 552.7,496.5 553.1,497.6 C553.5,498.6 554.2,501.0 554.5,502.2 C554.8,503.5 555.2,506.1 555.4,506.9 C555.7,507.7 556.1,508.9 556.4,508.6 C556.6,508.3 557.0,505.3 557.3,504.6 C557.6,503.9 558.3,504.0 558.7,503.4 C559.1,502.8 559.7,501.1 560.1,499.9 C560.5,498.7 561.1,495.6 561.5,494.1 C561.9,492.6 562.5,489.9 562.9,488.2 C563.3,486.6 563.9,483.4 564.3,481.2 C564.7,479.1 565.4,473.4 565.7,471.9 C566.1,470.4 566.8,470.2 567.1,469.5 C567.4,468.9 567.8,468.4 568.1,467.2 C568.3,466.0 568.7,462.0 569.0,460.2 C569.2,458.4 569.7,454.2 569.9,453.2 C570.2,452.2 570.6,452.4 570.9,452.5 C571.2,452.6 571.9,453.7 572.3,453.9 C572.6,454.1 573.3,454.7 573.7,454.4 C574.0,454.1 574.7,452.2 575.1,451.6 C575.4,451.0 576.2,449.8 576.5,449.7 C576.8,449.6 577.2,450.4 577.4,450.9 C577.6,451.3 578.1,452.1 578.3,453.2 C578.6,454.3 579.0,457.1 579.3,459.0 C579.5,461.0 580.0,465.8 580.2,468.4 C580.4,471.0 580.9,476.2 581.1,478.9 C581.4,481.6 581.8,486.8 582.1,489.4 C582.3,492.0 582.8,496.6 583.0,498.7 C583.2,500.9 583.7,504.5 583.9,505.8 C584.2,507.0 584.6,508.3 584.9,508.6 C585.2,508.9 585.9,508.2 586.3,508.1 C586.6,508.0 587.3,507.3 587.7,507.6 C588.0,508.0 588.7,510.2 589.1,510.9 C589.4,511.6 590.1,512.5 590.5,513.2 C590.8,513.9 591.6,515.7 591.9,516.3 C592.2,516.8 592.6,517.7 592.8,517.4 C593.1,517.1 593.4,514.7 593.7,513.9 C594.0,513.2 594.8,512.0 595.1,511.6 C595.5,511.2 596.2,510.7 596.5,510.9 C596.9,511.0 597.6,512.6 597.9,512.8 C598.3,512.9 598.6,512.7 598.9,512.3 C599.1,511.9 599.6,510.4 599.8,510.0 C600.1,509.6 600.4,509.0 600.8,509.3 C601.1,509.5 601.8,510.8 602.2,511.6 C602.5,512.4 603.2,514.2 603.6,515.1 C603.9,516.0 604.6,517.7 605.0,518.6 C605.3,519.4 606.0,521.0 606.4,521.6 C606.7,522.2 607.4,522.7 607.8,523.3 C608.1,523.9 608.8,525.7 609.2,526.3 C609.5,526.9 610.2,527.6 610.6,527.7 C610.9,527.8 611.6,527.8 612.0,527.2 C612.3,526.7 613.0,524.5 613.4,523.3 C613.7,522.0 614.4,518.4 614.8,517.4 C615.1,516.4 615.8,516.2 616.2,515.6 C616.5,515.0 617.2,513.6 617.6,512.8 C617.9,511.9 618.7,509.7 619.0,509.3 C619.3,508.8 619.6,509.0 619.9,509.3 C620.2,509.6 620.9,511.2 621.3,511.6 C621.7,512.0 622.3,512.1 622.7,512.1 C623.1,512.1 623.7,511.6 624.1,511.6 C624.5,511.6 625.2,511.7 625.5,512.3 C625.8,512.9 626.2,515.0 626.4,516.3 C626.7,517.5 627.1,520.7 627.4,522.1 C627.6,523.5 628.0,526.1 628.3,526.8 C628.6,527.4 629.4,527.0 629.7,527.2 C630.0,527.5 630.4,527.9 630.6,528.6 C630.9,529.3 631.3,531.7 631.6,532.6 C631.8,533.5 632.2,535.1 632.5,535.6 C632.8,536.2 633.6,536.4 633.9,536.6 C634.3,536.8 635.0,537.3 635.3,537.3 C635.7,537.3 636.4,537.3 636.7,536.8 C637.0,536.4 637.4,535.1 637.7,533.8 C637.9,532.5 638.3,528.9 638.6,526.8 C638.8,524.6 639.3,520.2 639.5,517.4 C639.8,514.7 640.2,509.1 640.5,505.8 C640.7,502.4 641.2,495.4 641.4,491.7 C641.6,488.1 642.1,480.6 642.3,477.7 C642.6,474.8 643.0,471.1 643.3,469.5 C643.6,468.0 644.4,467.0 644.7,466.0 C645.0,465.1 645.4,463.8 645.6,462.5 C645.8,461.3 646.3,458.0 646.5,456.7 C646.8,455.4 647.2,453.3 647.5,452.5 C647.7,451.7 648.2,450.9 648.4,450.9 C648.6,450.9 649.1,451.7 649.3,452.5 C649.6,453.3 650.0,455.5 650.3,456.7 C650.5,457.9 650.9,460.0 651.2,461.4 C651.5,462.7 652.2,465.5 652.6,467.2 C653.0,468.9 653.7,472.2 654.0,474.2 C654.3,476.2 654.7,480.1 654.9,482.4 C655.2,484.7 655.6,489.3 655.9,491.7 C656.1,494.2 656.6,498.7 656.8,501.1 C657.1,503.5 657.5,508.1 657.7,510.4 C658.0,512.7 658.4,516.5 658.7,518.6 C658.9,520.7 659.3,524.8 659.6,526.8 C659.9,528.7 660.7,532.2 661.0,533.8 C661.4,535.4 662.1,538.1 662.4,538.9 C662.7,539.7 663.1,540.1 663.4,540.1 C663.6,540.0 664.0,539.3 664.3,538.5 C664.5,537.6 664.9,535.1 665.2,533.8 C665.5,532.4 666.3,529.2 666.6,527.9 C667.0,526.7 667.7,525.6 668.0,524.4 C668.4,523.3 669.1,520.7 669.4,519.3 C669.8,517.9 670.5,515.7 670.8,513.9 C671.1,512.2 671.5,508.0 671.8,505.8 C672.0,503.5 672.5,498.8 672.7,496.4 C672.9,494.0 673.4,489.2 673.6,487.1 C673.9,484.9 674.3,481.6 674.6,480.1 C674.8,478.5 675.2,476.4 675.5,475.4 C675.8,474.4 676.5,472.9 676.7,472.6" stroke="#000" stroke-width="1.68" fill="none" stroke-linejoin="round" stroke-linecap="round" clip-path="url(#cp2)"/>
<path d="M45.40,574.5 v-6.2 M45.40,429.3 v6.2 M108.51,574.5 v-6.2 M108.51,429.3 v6.2 M171.62,574.5 v-6.2 M171.62,429.3 v6.2 M234.73,574.5 v-6.2 M234.73,429.3 v6.2 M297.84,574.5 v-6.2 M297.84,429.3 v6.2 M360.95,574.5 v-6.2 M360.95,429.3 v6.2 M424.06,574.5 v-6.2 M424.06,429.3 v6.2 M487.17,574.5 v-6.2 M487.17,429.3 v6.2 M550.28,574.5 v-6.2 M550.28,429.3 v6.2 M613.39,574.5 v-6.2 M613.39,429.3 v6.2 M676.50,574.5 v-6.2 M676.50,429.3 v6.2 M45.4,429.30 h6.2 M676.5,429.30 h-6.2 M45.4,453.50 h6.2 M676.5,453.50 h-6.2 M45.4,477.70 h6.2 M676.5,477.70 h-6.2 M45.4,501.90 h6.2 M676.5,501.90 h-6.2 M45.4,526.10 h6.2 M676.5,526.10 h-6.2 M45.4,550.30 h6.2 M676.5,550.30 h-6.2 M45.4,574.50 h6.2 M676.5,574.50 h-6.2" stroke="#4a4a4a" stroke-width="0.6" fill="none"/>
<rect x="45.4" y="429.3" width="631.1" height="145.2" fill="none" stroke="#4a4a4a" stroke-width="0.6"/>
<g font-size="14.2" text-anchor="middle">
<text x="45.4" y="592.9">75</text>
<text x="108.5" y="592.9">76</text>
<text x="171.6" y="592.9">77</text>
<text x="234.7" y="592.9">78</text>
<text x="297.8" y="592.9">79</text>
<text x="360.9" y="592.9">80</text>
<text x="424.1" y="592.9">81</text>
<text x="487.2" y="592.9">82</text>
<text x="550.3" y="592.9">83</text>
<text x="613.4" y="592.9">84</text>
<text x="676.5" y="592.9">85</text>
</g>
<g font-size="14.2" text-anchor="end">
<text x="40.6" y="434.2">1.5</text>
<text x="40.6" y="458.4">1</text>
<text x="40.6" y="482.6">0.5</text>
<text x="40.6" y="506.8">0</text>
<text x="40.6" y="531.0">-0.5</text>
<text x="40.6" y="555.2">-1</text>
<text x="40.6" y="579.4">-1.5</text>
</g>
<text x="360.9" y="610.8" font-size="16.0" text-anchor="middle">Time in sec</text>
<text transform="translate(13.3,501.9) rotate(-90)" font-size="16.0" text-anchor="middle">Displacement in mm</text>
<text x="56.0" y="567.5" font-size="30.5" fill="#000">c</text>
<rect x="564.5" y="435.8" width="106.5" height="16.2" fill="#fff" stroke="#4a4a4a" stroke-width="0.6"/>
<path d="M567.1,443.5 h20.8" stroke="#000" stroke-width="1.68" fill="none"/>
<text x="589.9" y="448.2" font-size="13.0" fill="#000">Original signal</text>
</g>
<g>
<clipPath id="cp3"><rect x="45.4" y="635.1" width="631.1" height="145.1"/></clipPath>
<path d="M108.51,635.1 V780.2 M171.62,635.1 V780.2 M234.73,635.1 V780.2 M297.84,635.1 V780.2 M360.95,635.1 V780.2 M424.06,635.1 V780.2 M487.17,635.1 V780.2 M550.28,635.1 V780.2 M613.39,635.1 V780.2" stroke="#e2e2e2" stroke-width="0.7" fill="none"/>
<path d="M45.4,659.28 H676.5 M45.4,683.47 H676.5 M45.4,707.65 H676.5 M45.4,731.83 H676.5 M45.4,756.02 H676.5" stroke="#e4e4e4" stroke-width="0.7" fill="none"/>
<path d="M45.0,723.4 C45.2,723.4 46.0,723.0 46.4,723.0 C46.8,723.0 47.5,722.8 47.8,723.4 C48.1,724.0 48.5,726.9 48.7,727.6 C49.0,728.4 49.4,729.3 49.7,729.0 C49.9,728.8 50.4,727.7 50.6,725.8 C50.8,723.8 51.3,716.8 51.5,714.1 C51.8,711.4 52.2,706.3 52.5,704.7 C52.7,703.2 53.2,702.1 53.4,701.9 C53.7,701.8 54.0,703.3 54.3,703.6 C54.6,703.9 55.4,704.6 55.7,704.3 C56.1,704.0 56.8,702.9 57.1,701.2 C57.5,699.6 58.2,693.9 58.5,691.9 C58.9,689.9 59.6,686.0 59.9,685.6 C60.3,685.1 60.6,687.3 60.9,688.4 C61.1,689.5 61.5,693.0 61.8,694.2 C62.1,695.5 62.9,697.4 63.2,698.2 C63.6,699.0 64.3,699.5 64.6,700.1 C65.0,700.7 65.7,702.3 66.0,702.9 C66.4,703.5 67.1,704.4 67.4,704.7 C67.8,705.0 68.5,704.5 68.8,705.2 C69.1,706.0 69.5,708.8 69.8,710.6 C70.0,712.3 70.4,716.6 70.7,718.8 C71.0,720.9 71.7,725.4 72.1,726.9 C72.5,728.5 73.1,730.8 73.5,730.9 C73.9,731.0 74.5,728.5 74.9,727.6 C75.3,726.8 75.9,725.1 76.3,724.6 C76.7,724.1 77.3,724.7 77.7,724.1 C78.1,723.5 78.7,721.8 79.1,719.9 C79.5,718.0 80.1,712.1 80.5,709.4 C80.9,706.7 81.5,701.5 81.9,698.9 C82.3,696.3 82.9,691.3 83.3,689.6 C83.7,687.8 84.4,685.7 84.7,685.4 C85.0,685.1 85.3,686.4 85.6,687.2 C85.9,688.1 86.7,691.1 87.0,691.9 C87.4,692.7 88.1,693.0 88.4,693.1 C88.8,693.2 89.5,692.1 89.8,692.6 C90.2,693.1 90.9,695.4 91.2,696.6 C91.6,697.7 92.3,699.6 92.6,701.2 C93.0,702.9 93.7,707.3 94.1,709.4 C94.4,711.5 95.1,715.9 95.5,717.6 C95.8,719.3 96.5,721.1 96.9,722.3 C97.2,723.4 97.9,726.4 98.3,726.5 C98.6,726.6 99.3,724.0 99.7,723.0 C100.0,722.0 100.7,719.8 101.1,718.8 C101.4,717.8 102.1,716.3 102.5,715.3 C102.8,714.2 103.5,711.3 103.9,710.6 C104.2,709.9 104.9,710.6 105.3,710.1 C105.6,709.7 106.4,707.7 106.7,707.1 C107.0,706.4 107.3,705.2 107.6,705.2 C107.9,705.2 108.7,707.4 109.0,707.1 C109.3,706.7 109.6,703.9 109.9,702.4 C110.2,700.9 111.0,696.8 111.3,695.4 C111.7,694.0 112.4,691.8 112.7,691.4 C113.0,691.1 113.4,691.7 113.7,692.6 C114.0,693.5 114.7,697.2 115.1,698.2 C115.4,699.2 116.1,700.3 116.5,700.1 C116.8,699.8 117.6,696.8 117.9,696.1 C118.2,695.4 118.5,694.5 118.8,694.7 C119.1,694.9 119.8,696.8 120.2,697.7 C120.6,698.7 121.2,701.1 121.6,701.9 C122.0,702.8 122.7,702.7 123.0,704.3 C123.4,705.9 124.1,711.3 124.4,714.1 C124.8,716.9 125.5,723.0 125.8,725.8 C126.2,728.5 126.9,733.4 127.2,735.1 C127.6,736.8 128.3,738.7 128.6,738.8 C128.9,739.0 129.3,737.5 129.6,736.3 C129.8,735.0 130.2,731.5 130.5,729.3 C130.8,727.0 131.5,721.0 131.9,718.8 C132.3,716.5 132.9,713.6 133.3,711.8 C133.7,709.9 134.3,706.7 134.7,704.7 C135.1,702.8 135.7,698.5 136.1,696.6 C136.5,694.6 137.1,691.1 137.5,689.6 C137.9,688.0 138.5,685.9 138.9,684.9 C139.3,683.9 140.0,682.2 140.3,681.9 C140.6,681.5 140.9,681.3 141.2,681.9 C141.5,682.4 142.3,684.4 142.6,686.1 C143.0,687.7 143.7,691.8 144.0,694.2 C144.4,696.7 145.1,702.2 145.4,704.7 C145.8,707.3 146.5,712.3 146.8,714.1 C147.2,715.8 147.9,717.7 148.2,718.3 C148.6,718.9 149.3,718.9 149.6,718.8 C150.0,718.6 150.7,716.7 151.0,716.9 C151.4,717.0 152.1,719.4 152.4,719.9 C152.8,720.5 153.5,721.1 153.8,721.1 C154.2,721.1 154.9,720.0 155.2,719.9 C155.6,719.8 156.3,720.5 156.6,720.4 C157.0,720.2 157.7,720.0 158.1,718.8 C158.4,717.5 159.1,712.3 159.5,710.6 C159.8,708.8 160.5,706.1 160.9,705.2 C161.2,704.3 161.9,704.4 162.3,703.6 C162.6,702.8 163.3,700.0 163.7,698.9 C164.0,697.8 164.8,695.9 165.1,695.4 C165.4,694.9 165.7,694.7 166.0,694.9 C166.3,695.1 167.0,696.6 167.4,697.0 C167.8,697.5 168.4,698.3 168.8,698.4 C169.2,698.6 169.8,698.4 170.2,698.4 C170.6,698.5 171.2,698.1 171.6,698.9 C172.0,699.7 172.6,703.2 173.0,704.7 C173.4,706.3 174.0,709.4 174.4,710.6 C174.8,711.7 175.4,713.3 175.8,713.6 C176.2,713.9 176.8,713.1 177.2,712.9 C177.6,712.7 178.2,712.1 178.6,712.2 C179.0,712.4 179.6,713.6 180.0,714.1 C180.4,714.6 181.1,716.1 181.4,716.0 C181.7,715.8 182.1,714.1 182.3,712.9 C182.6,711.8 183.0,708.3 183.3,707.1 C183.6,705.9 184.3,704.1 184.7,703.6 C185.0,703.0 185.7,703.1 186.1,702.9 C186.4,702.7 187.1,701.5 187.5,701.9 C187.8,702.3 188.5,705.0 188.9,705.9 C189.2,706.8 189.9,708.4 190.3,708.9 C190.6,709.5 191.3,709.5 191.7,709.9 C192.1,710.3 192.7,711.7 193.1,712.2 C193.5,712.7 194.1,713.5 194.5,713.6 C194.9,713.8 195.5,713.3 195.9,713.4 C196.3,713.5 197.0,714.3 197.3,714.6 C197.6,714.8 197.9,715.8 198.2,715.3 C198.5,714.7 199.3,711.8 199.6,710.6 C200.0,709.4 200.7,706.6 201.0,705.9 C201.4,705.2 202.2,705.4 202.4,705.2 C202.7,705.1 202.8,705.6 203.0,704.7 C203.2,703.9 203.6,700.7 203.9,698.9 C204.2,697.1 205.0,692.2 205.3,690.7 C205.7,689.2 206.2,687.2 206.5,687.2 C206.8,687.3 207.3,689.7 207.7,691.2 C208.0,692.7 208.8,697.5 209.1,698.9 C209.4,700.3 209.7,701.4 210.0,701.9 C210.3,702.5 211.1,701.9 211.4,702.9 C211.7,703.8 212.1,707.4 212.3,709.4 C212.6,711.5 213.0,716.6 213.3,718.8 C213.6,720.9 214.4,724.7 214.7,725.8 C215.0,726.8 215.4,727.2 215.6,726.9 C215.9,726.6 216.3,725.1 216.5,723.4 C216.8,721.8 217.2,716.4 217.5,714.1 C217.8,711.8 218.5,707.3 218.9,705.9 C219.2,704.5 219.9,703.9 220.3,703.6 C220.6,703.3 221.3,703.3 221.7,703.6 C222.1,703.9 222.7,705.0 223.1,705.9 C223.5,706.8 224.1,709.3 224.5,710.6 C224.9,711.9 225.5,715.0 225.9,716.0 C226.3,716.9 227.0,717.5 227.3,717.6 C227.6,717.7 228.0,717.3 228.2,716.4 C228.5,715.5 228.9,712.0 229.2,710.6 C229.5,709.2 230.2,706.8 230.6,705.9 C230.9,705.0 231.6,704.1 232.0,703.6 C232.3,703.1 233.0,702.2 233.4,701.9 C233.7,701.6 234.4,701.2 234.8,701.2 C235.1,701.3 235.8,702.0 236.2,702.4 C236.5,702.8 237.3,704.0 237.6,704.3 C237.9,704.6 238.2,705.3 238.5,704.7 C238.8,704.2 239.5,701.1 239.9,700.1 C240.3,699.0 241.0,697.1 241.3,696.6 C241.6,696.0 242.0,695.4 242.2,695.9 C242.5,696.3 242.9,699.0 243.2,700.1 C243.5,701.2 244.2,703.4 244.6,704.3 C244.9,705.2 245.6,706.3 246.0,707.1 C246.3,707.9 247.0,709.8 247.4,710.6 C247.7,711.3 248.4,712.2 248.8,712.9 C249.1,713.7 249.8,715.7 250.2,716.4 C250.5,717.2 251.2,718.6 251.6,718.8 C251.9,718.9 252.6,718.1 253.0,717.6 C253.3,717.0 254.0,714.9 254.4,714.6 C254.8,714.3 255.4,715.8 255.8,715.3 C256.2,714.7 256.8,711.5 257.2,710.6 C257.6,709.7 258.2,708.6 258.6,708.2 C259.0,707.9 259.7,708.3 260.0,707.5 C260.3,706.8 260.6,703.7 260.9,702.4 C261.2,701.1 262.0,698.6 262.3,697.7 C262.7,696.9 263.2,696.0 263.5,696.1 C263.8,696.2 264.3,697.8 264.7,698.4 C265.0,699.0 265.7,700.1 266.1,700.8 C266.4,701.4 267.1,703.3 267.5,703.6 C267.8,703.9 268.5,702.8 268.9,703.1 C269.2,703.4 270.0,704.5 270.3,705.9 C270.6,707.3 270.9,712.3 271.2,714.1 C271.5,715.8 272.2,718.7 272.6,719.5 C273.0,720.2 273.6,720.0 274.0,719.9 C274.4,719.8 275.1,719.8 275.4,718.8 C275.7,717.7 276.1,713.4 276.3,711.8 C276.6,710.1 277.0,706.9 277.3,705.9 C277.6,704.9 278.4,704.4 278.7,704.3 C279.0,704.1 279.3,705.0 279.6,704.7 C279.9,704.4 280.7,702.7 281.0,701.9 C281.4,701.2 282.1,699.8 282.4,698.9 C282.8,698.1 283.5,696.0 283.8,695.4 C284.1,694.8 284.4,693.9 284.8,694.2 C285.1,694.5 285.8,696.7 286.2,697.7 C286.5,698.7 287.2,701.0 287.6,701.9 C287.9,702.9 288.6,704.2 289.0,704.7 C289.3,705.3 290.1,705.0 290.4,705.9 C290.7,706.8 291.0,709.9 291.3,711.8 C291.5,713.6 292.0,718.1 292.2,719.9 C292.5,721.7 292.9,724.6 293.2,725.8 C293.5,727.0 294.3,728.8 294.6,729.3 C294.9,729.8 295.3,730.0 295.5,729.7 C295.7,729.4 296.2,728.4 296.4,726.9 C296.7,725.5 297.1,720.6 297.4,718.8 C297.6,716.9 298.1,713.8 298.3,712.9 C298.5,712.0 299.0,711.9 299.2,711.8 C299.5,711.6 299.9,712.4 300.2,711.8 C300.4,711.1 300.8,708.6 301.1,707.1 C301.4,705.6 302.1,701.5 302.5,700.1 C302.9,698.6 303.5,696.8 303.9,696.1 C304.3,695.4 304.9,695.0 305.3,694.9 C305.7,694.8 306.3,695.2 306.7,695.4 C307.1,695.6 307.7,696.5 308.1,696.6 C308.5,696.6 309.2,696.2 309.5,695.9 C309.8,695.6 310.4,694.0 310.7,694.2 C311.0,694.5 311.6,696.7 311.8,697.7 C312.1,698.7 312.5,701.3 312.8,701.9 C313.1,702.5 313.8,702.7 314.2,702.4 C314.5,702.2 315.2,700.5 315.6,700.1 C315.9,699.6 316.7,699.1 317.0,698.9 C317.3,698.8 317.6,698.4 317.9,698.9 C318.2,699.4 319.0,701.4 319.3,702.9 C319.6,704.4 320.0,708.2 320.3,710.6 C320.5,713.0 320.9,718.5 321.2,721.1 C321.4,723.7 321.9,728.5 322.1,730.4 C322.4,732.4 322.8,735.2 323.1,736.3 C323.3,737.3 323.7,738.4 324.0,738.6 C324.2,738.8 324.6,738.5 324.9,737.9 C325.2,737.3 326.0,735.5 326.3,733.9 C326.7,732.4 327.4,728.5 327.7,725.8 C328.1,723.0 328.8,715.8 329.1,712.9 C329.5,710.0 330.2,705.7 330.5,703.6 C330.9,701.5 331.6,698.5 331.9,696.6 C332.3,694.6 333.0,690.1 333.3,688.4 C333.7,686.7 334.4,683.9 334.7,683.3 C335.0,682.6 335.4,682.7 335.7,683.3 C335.9,683.8 336.3,686.0 336.6,687.2 C336.9,688.4 337.6,691.4 338.0,692.6 C338.4,693.8 339.0,695.1 339.4,696.1 C339.8,697.1 340.4,699.2 340.8,700.1 C341.2,701.0 341.8,702.3 342.2,702.9 C342.6,703.5 343.2,704.4 343.6,704.7 C344.0,705.0 344.7,704.5 345.0,705.2 C345.4,706.0 346.1,709.1 346.4,710.6 C346.8,712.0 347.5,715.1 347.8,716.4 C348.2,717.8 348.9,720.3 349.2,721.1 C349.5,721.9 349.8,722.4 350.2,722.3 C350.5,722.1 351.2,720.8 351.6,719.9 C351.9,719.0 352.6,716.3 353.0,715.3 C353.3,714.2 354.0,712.4 354.4,711.8 C354.7,711.1 355.4,710.9 355.8,710.6 C356.1,710.3 356.8,710.2 357.2,709.4 C357.5,708.7 358.2,705.6 358.6,704.7 C358.9,703.9 359.6,703.1 360.0,702.9 C360.3,702.6 360.7,702.6 361.0,702.9 C361.3,703.2 362.0,704.4 362.4,705.2 C362.8,706.1 363.4,708.6 363.8,709.4 C364.2,710.2 364.8,711.0 365.2,711.3 C365.6,711.6 366.2,711.4 366.6,711.8 C367.0,712.1 367.6,713.3 368.0,714.1 C368.4,714.8 369.1,717.0 369.4,717.6 C369.7,718.2 370.0,719.1 370.3,718.8 C370.6,718.5 371.4,716.6 371.7,715.3 C372.1,713.9 372.8,710.2 373.1,708.2 C373.5,706.3 374.2,702.4 374.5,700.1 C374.9,697.8 375.2,693.2 375.5,690.7 C375.7,688.3 376.2,683.4 376.4,681.4 C376.7,679.4 377.1,676.6 377.4,675.5 C377.6,674.5 378.0,673.4 378.3,673.2 C378.5,673.1 379.0,673.6 379.2,674.4 C379.5,675.1 379.9,677.5 380.2,679.1 C380.4,680.6 380.8,684.2 381.1,686.1 C381.4,687.9 382.2,691.5 382.5,693.1 C382.8,694.6 383.2,695.9 383.4,697.7 C383.7,699.6 384.1,704.3 384.4,707.1 C384.6,709.8 385.0,715.9 385.3,718.8 C385.5,721.6 386.0,726.5 386.2,729.3 C386.5,732.0 386.9,737.2 387.2,739.8 C387.5,742.4 388.2,747.0 388.6,749.1 C388.9,751.2 389.7,754.9 390.0,756.1 C390.3,757.3 390.7,758.2 390.9,758.2 C391.1,758.2 391.6,757.6 391.8,756.1 C392.1,754.6 392.5,749.8 392.8,746.8 C393.0,743.8 393.5,736.7 393.7,732.8 C393.9,728.8 394.4,720.7 394.6,716.4 C394.9,712.2 395.3,704.2 395.6,700.1 C395.8,696.0 396.3,688.7 396.5,684.9 C396.7,681.1 397.2,673.8 397.4,670.9 C397.7,668.0 398.1,664.0 398.4,662.7 C398.6,661.4 399.1,660.8 399.3,660.8 C399.5,660.8 400.0,661.7 400.2,662.7 C400.5,663.7 400.9,667.2 401.2,668.5 C401.4,669.9 401.9,671.2 402.1,673.2 C402.4,675.2 402.8,680.5 403.0,683.7 C403.3,686.9 403.7,694.5 404.0,697.7 C404.2,700.9 404.7,705.8 404.9,708.2 C405.2,710.7 405.6,714.6 405.8,716.4 C406.1,718.2 406.5,721.1 406.8,722.3 C407.0,723.4 407.4,724.9 407.7,725.1 C408.0,725.2 408.8,723.9 409.1,723.4 C409.5,722.9 410.2,722.0 410.5,721.1 C410.9,720.2 411.6,718.2 411.9,716.4 C412.3,714.6 413.0,709.7 413.3,707.1 C413.7,704.5 414.4,698.8 414.7,696.6 C415.1,694.3 415.8,690.7 416.1,689.6 C416.4,688.4 416.8,687.8 417.1,687.9 C417.3,688.1 417.7,689.5 418.0,690.7 C418.2,692.0 418.7,695.9 418.9,697.7 C419.2,699.6 419.6,702.6 419.9,704.7 C420.2,706.9 420.9,711.7 421.3,714.1 C421.6,716.5 422.3,721.3 422.7,723.4 C423.0,725.6 423.7,728.9 424.1,730.4 C424.4,732.0 425.1,734.4 425.5,735.1 C425.8,735.9 426.5,736.4 426.9,736.3 C427.2,736.1 428.0,735.0 428.3,733.9 C428.6,732.9 429.0,730.4 429.2,728.1 C429.4,725.8 429.9,719.8 430.1,716.4 C430.4,713.1 430.8,705.6 431.1,702.4 C431.3,699.2 431.7,693.8 432.0,691.9 C432.3,690.0 433.0,688.6 433.4,687.9 C433.8,687.2 434.5,686.6 434.8,686.5 C435.1,686.4 435.4,686.8 435.7,687.2 C436.0,687.6 436.8,689.3 437.1,689.6 C437.5,689.9 438.2,689.9 438.5,689.6 C438.9,689.2 439.6,687.1 439.9,686.8 C440.3,686.4 441.0,686.4 441.4,686.8 C441.7,687.1 442.0,688.4 442.3,689.6 C442.5,690.7 442.9,693.9 443.2,695.4 C443.5,696.9 444.3,700.0 444.6,701.2 C445.0,702.5 445.7,703.7 446.0,705.2 C446.3,706.7 446.7,710.7 447.0,712.9 C447.2,715.1 447.6,720.0 447.9,722.3 C448.1,724.5 448.6,728.8 448.8,730.4 C449.1,732.1 449.5,734.4 449.8,735.1 C450.0,735.9 450.4,736.3 450.7,736.3 C451.0,736.3 451.7,735.7 452.1,735.1 C452.5,734.5 453.1,733.0 453.5,731.6 C453.9,730.2 454.5,726.4 454.9,724.6 C455.3,722.8 456.0,719.0 456.3,717.6 C456.6,716.2 457.0,714.7 457.2,714.1 C457.5,713.5 457.9,713.2 458.2,712.9 C458.5,712.7 459.3,713.0 459.6,712.2 C459.9,711.5 460.3,708.7 460.5,707.1 C460.7,705.5 461.1,701.5 461.4,700.1 C461.7,698.6 462.5,697.3 462.8,696.1 C463.1,694.9 463.5,692.5 463.8,691.2 C464.1,689.9 464.9,686.7 465.2,686.1 C465.5,685.4 465.9,685.7 466.1,686.1 C466.4,686.4 466.8,688.3 467.0,688.9 C467.3,689.4 467.7,690.3 468.0,690.3 C468.3,690.2 469.0,688.7 469.4,688.4 C469.7,688.1 470.5,687.6 470.8,687.9 C471.1,688.3 471.5,689.6 471.7,691.2 C472.0,692.8 472.4,697.7 472.6,700.1 C472.9,702.4 473.3,707.1 473.6,709.4 C473.8,711.7 474.2,716.1 474.5,717.6 C474.8,719.1 475.6,720.3 475.9,721.1 C476.3,721.9 477.0,723.0 477.3,723.4 C477.7,723.8 478.4,723.7 478.7,724.1 C479.1,724.6 479.8,726.2 480.1,726.9 C480.5,727.7 481.2,729.5 481.5,730.0 C481.8,730.4 482.2,730.8 482.5,730.4 C482.7,730.0 483.2,728.5 483.4,726.9 C483.6,725.4 484.1,720.7 484.3,718.8 C484.6,716.8 485.0,713.0 485.3,711.8 C485.5,710.5 486.0,709.4 486.2,708.9 C486.4,708.5 486.9,708.9 487.1,708.2 C487.4,707.5 487.8,705.2 488.1,703.6 C488.3,701.9 488.8,697.1 489.0,695.4 C489.2,693.7 489.7,691.3 489.9,690.7 C490.2,690.2 490.6,690.7 490.9,691.2 C491.1,691.7 491.5,693.7 491.8,694.2 C492.1,694.8 492.8,695.3 493.2,695.4 C493.6,695.5 494.3,694.6 494.6,694.9 C494.9,695.2 495.2,696.9 495.5,697.7 C495.8,698.6 496.6,700.6 496.9,701.2 C497.2,701.9 497.6,702.7 497.9,702.9 C498.1,703.1 498.6,703.2 498.8,702.9 C499.1,702.5 499.5,700.6 499.7,700.1 C500.0,699.6 500.4,698.3 500.7,698.9 C500.9,699.5 501.4,702.9 501.6,704.7 C501.9,706.6 502.3,710.8 502.5,712.9 C502.8,715.0 503.2,719.4 503.5,721.1 C503.8,722.8 504.6,725.5 504.9,726.2 C505.2,727.0 505.6,727.1 505.8,726.9 C506.1,726.8 506.5,726.2 506.8,725.3 C507.0,724.4 507.4,720.8 507.7,719.9 C507.9,719.0 508.4,718.7 508.6,718.3 C508.9,717.9 509.3,717.9 509.6,716.9 C509.8,715.9 510.2,712.2 510.5,710.6 C510.7,709.0 511.1,706.1 511.4,704.7 C511.7,703.4 512.5,701.1 512.8,700.1 C513.2,699.0 513.9,697.2 514.2,696.6 C514.6,696.0 515.3,695.4 515.6,695.4 C515.9,695.4 516.3,696.1 516.6,696.6 C516.9,697.0 517.6,698.5 518.0,698.9 C518.3,699.3 518.7,699.4 519.0,699.4 C519.3,699.3 520.0,698.4 520.4,698.4 C520.8,698.4 521.4,698.8 521.8,699.4 C522.2,699.9 522.8,701.7 523.2,702.9 C523.6,704.0 524.2,706.9 524.6,708.2 C525.0,709.6 525.6,711.8 526.0,712.9 C526.4,714.0 527.1,716.1 527.4,716.9 C527.7,717.7 528.0,719.0 528.3,719.2 C528.6,719.4 529.4,718.9 529.7,718.3 C530.1,717.7 530.8,715.0 531.1,714.6 C531.4,714.1 531.8,714.3 532.1,714.6 C532.4,714.9 533.2,716.6 533.5,716.9 C533.8,717.1 534.2,717.2 534.4,716.4 C534.7,715.6 535.1,712.0 535.4,710.6 C535.6,709.2 536.0,706.2 536.3,705.9 C536.6,705.6 537.3,707.9 537.7,708.2 C538.1,708.6 538.8,709.3 539.1,708.9 C539.4,708.6 539.7,706.4 540.0,705.2 C540.3,704.0 541.1,700.6 541.4,699.6 C541.8,698.6 542.5,697.8 542.8,697.7 C543.2,697.6 543.9,698.6 544.2,698.9 C544.6,699.2 545.3,699.9 545.6,700.1 C546.0,700.2 546.7,700.0 547.0,700.1 C547.4,700.2 548.1,700.9 548.4,700.8 C548.8,700.7 549.5,699.6 549.8,699.4 C550.2,699.2 550.9,698.9 551.2,699.4 C551.6,699.8 552.3,701.7 552.6,702.9 C553.0,704.0 553.7,706.4 554.0,708.2 C554.4,710.1 555.1,715.5 555.4,716.9 C555.7,718.3 556.1,719.2 556.4,719.2 C556.7,719.2 557.4,716.9 557.8,716.9 C558.1,716.9 558.8,718.9 559.2,719.2 C559.5,719.6 560.2,719.8 560.6,719.5 C560.9,719.2 561.6,717.6 562.0,716.9 C562.3,716.2 563.0,714.9 563.4,714.1 C563.7,713.3 564.5,711.6 564.8,710.6 C565.1,709.6 565.4,706.8 565.7,706.6 C566.0,706.4 566.8,709.1 567.1,708.9 C567.5,708.8 568.2,706.5 568.5,705.2 C568.9,703.9 569.6,699.8 569.9,698.9 C570.2,698.0 570.6,698.1 570.9,698.4 C571.2,698.7 571.9,700.8 572.3,701.2 C572.6,701.7 573.4,702.4 573.7,701.9 C574.0,701.5 574.3,699.2 574.6,697.7 C574.8,696.3 575.3,692.2 575.5,690.7 C575.8,689.2 576.2,686.7 576.5,686.1 C576.7,685.4 577.2,685.0 577.4,685.6 C577.6,686.2 578.1,689.0 578.3,690.7 C578.6,692.5 579.0,696.5 579.3,698.9 C579.6,701.3 580.3,706.7 580.7,709.4 C581.0,712.1 581.7,717.7 582.1,719.9 C582.4,722.1 583.2,725.2 583.5,726.2 C583.8,727.2 584.1,727.8 584.4,727.6 C584.7,727.4 585.4,725.9 585.8,724.6 C586.2,723.3 586.8,719.1 587.2,717.6 C587.6,716.1 588.2,713.8 588.6,712.9 C589.0,712.0 589.6,711.0 590.0,710.6 C590.4,710.1 591.1,709.6 591.4,709.4 C591.7,709.3 592.0,710.2 592.3,709.4 C592.6,708.7 593.4,705.0 593.7,703.6 C594.1,702.1 594.8,699.3 595.1,698.4 C595.5,697.6 596.2,697.3 596.5,697.0 C596.9,696.8 597.6,696.5 597.9,696.6 C598.3,696.7 598.6,697.7 598.9,697.7 C599.1,697.7 599.6,696.9 599.8,696.6 C600.1,696.3 600.5,695.2 600.8,695.4 C601.0,695.6 601.4,696.7 601.7,697.7 C601.9,698.8 602.3,702.2 602.6,703.6 C602.9,704.9 603.7,707.2 604.0,708.2 C604.4,709.3 605.1,710.8 605.4,711.8 C605.8,712.7 606.5,714.6 606.8,715.3 C607.2,715.9 607.9,715.7 608.2,716.4 C608.6,717.2 609.3,720.2 609.6,721.1 C610.0,721.9 610.7,722.8 611.0,723.0 C611.4,723.1 612.1,723.0 612.4,722.3 C612.8,721.6 613.5,719.1 613.8,717.6 C614.2,716.1 614.9,712.3 615.2,710.6 C615.6,708.9 616.3,706.3 616.6,704.7 C617.0,703.2 617.7,700.0 618.0,698.9 C618.4,697.8 619.1,697.0 619.4,696.6 C619.8,696.2 620.5,696.2 620.8,695.9 C621.2,695.6 621.9,694.8 622.2,694.2 C622.6,693.6 623.3,691.7 623.6,691.2 C623.9,690.7 624.3,690.2 624.6,690.3 C624.8,690.4 625.3,691.1 625.5,691.9 C625.8,692.7 626.1,695.1 626.4,696.6 C626.7,698.1 627.5,702.2 627.8,703.6 C628.2,704.9 628.9,706.5 629.2,707.1 C629.6,707.7 630.3,707.5 630.6,708.2 C631.0,709.0 631.3,711.6 631.6,712.9 C631.8,714.3 632.2,717.2 632.5,718.8 C632.8,720.3 633.6,723.1 633.9,724.6 C634.3,726.1 635.0,729.1 635.3,730.4 C635.7,731.7 636.4,734.0 636.7,734.6 C637.0,735.3 637.4,735.7 637.7,735.6 C637.9,735.5 638.3,734.9 638.6,733.9 C638.8,733.0 639.3,729.9 639.5,728.1 C639.8,726.3 640.2,722.4 640.5,719.9 C640.7,717.5 641.2,712.0 641.4,709.4 C641.6,706.8 642.1,702.1 642.3,700.1 C642.6,698.0 643.0,694.6 643.3,693.5 C643.6,692.5 644.4,692.1 644.7,691.9 C645.0,691.7 645.4,692.7 645.6,691.9 C645.8,691.1 646.3,687.7 646.5,686.1 C646.8,684.4 647.2,680.2 647.5,679.1 C647.7,677.9 648.2,677.0 648.4,677.2 C648.6,677.3 649.1,679.1 649.3,680.2 C649.6,681.4 650.0,684.6 650.3,686.1 C650.6,687.5 651.3,690.1 651.7,691.2 C652.0,692.3 652.7,693.1 653.1,694.2 C653.4,695.4 654.1,698.6 654.5,700.1 C654.8,701.6 655.5,704.2 655.9,705.9 C656.2,707.6 656.9,710.9 657.3,712.9 C657.6,714.9 658.3,719.1 658.7,721.1 C659.0,723.1 659.7,726.3 660.1,728.1 C660.4,729.9 661.1,733.5 661.5,734.6 C661.8,735.8 662.6,736.9 662.9,737.0 C663.2,737.1 663.6,736.4 663.8,735.6 C664.1,734.7 664.4,732.0 664.8,730.4 C665.1,728.9 665.8,725.1 666.2,723.4 C666.5,721.8 667.2,719.0 667.6,717.6 C667.9,716.2 668.6,714.1 669.0,712.9 C669.3,711.7 670.0,709.3 670.4,708.2 C670.7,707.2 671.5,706.4 671.8,704.7 C672.1,703.1 672.5,697.8 672.7,695.4 C672.9,693.0 673.4,687.9 673.6,686.1 C673.9,684.2 674.3,682.0 674.6,680.9 C674.9,679.9 675.7,678.3 676.0,677.9 C676.3,677.4 676.8,677.5 676.9,677.4" stroke="#0b2aea" stroke-width="1.60" fill="none" stroke-linejoin="round" stroke-linecap="round" clip-path="url(#cp3)"/>
<path d="M57.0,682.1 l5.8,0 l-2.9,5.0 z M81.8,681.9 l5.8,0 l-2.9,5.0 z M110.1,688.2 l5.8,0 l-2.9,5.0 z M137.9,677.9 l5.8,0 l-2.9,5.0 z M162.9,691.4 l5.8,0 l-2.9,5.0 z M203.6,683.5 l5.8,0 l-2.9,5.0 z M239.3,691.9 l5.8,0 l-2.9,5.0 z M260.6,692.4 l5.8,0 l-2.9,5.0 z M281.9,690.0 l5.8,0 l-2.9,5.0 z M307.8,690.3 l5.8,0 l-2.9,5.0 z M332.3,677.7 l5.8,0 l-2.9,5.0 z M357.1,698.7 l5.8,0 l-2.9,5.0 z M375.4,669.2 l5.8,0 l-2.9,5.0 z M396.4,656.9 l5.8,0 l-2.9,5.0 z M414.2,684.4 l5.8,0 l-2.9,5.0 z M432.4,682.1 l5.8,0 l-2.9,5.0 z M462.5,681.2 l5.8,0 l-2.9,5.0 z M488.0,685.6 l5.8,0 l-2.9,5.0 z M513.0,691.2 l5.8,0 l-2.9,5.0 z M539.9,694.0 l5.8,0 l-2.9,5.0 z M574.0,680.7 l5.8,0 l-2.9,5.0 z M597.2,691.7 l5.8,0 l-2.9,5.0 z M621.7,686.3 l5.8,0 l-2.9,5.0 z M645.5,673.4 l5.8,0 l-2.9,5.0 z" fill="#0a72bd" stroke="none"/>
<path d="M45.40,780.2 v-6.2 M45.40,635.1 v6.2 M108.51,780.2 v-6.2 M108.51,635.1 v6.2 M171.62,780.2 v-6.2 M171.62,635.1 v6.2 M234.73,780.2 v-6.2 M234.73,635.1 v6.2 M297.84,780.2 v-6.2 M297.84,635.1 v6.2 M360.95,780.2 v-6.2 M360.95,635.1 v6.2 M424.06,780.2 v-6.2 M424.06,635.1 v6.2 M487.17,780.2 v-6.2 M487.17,635.1 v6.2 M550.28,780.2 v-6.2 M550.28,635.1 v6.2 M613.39,780.2 v-6.2 M613.39,635.1 v6.2 M676.50,780.2 v-6.2 M676.50,635.1 v6.2 M45.4,635.10 h6.2 M676.5,635.10 h-6.2 M45.4,659.28 h6.2 M676.5,659.28 h-6.2 M45.4,683.47 h6.2 M676.5,683.47 h-6.2 M45.4,707.65 h6.2 M676.5,707.65 h-6.2 M45.4,731.83 h6.2 M676.5,731.83 h-6.2 M45.4,756.02 h6.2 M676.5,756.02 h-6.2 M45.4,780.20 h6.2 M676.5,780.20 h-6.2" stroke="#4a4a4a" stroke-width="0.6" fill="none"/>
<rect x="45.4" y="635.1" width="631.1" height="145.1" fill="none" stroke="#4a4a4a" stroke-width="0.6"/>
<g font-size="14.2" text-anchor="middle">
<text x="45.4" y="798.6">75</text>
<text x="108.5" y="798.6">76</text>
<text x="171.6" y="798.6">77</text>
<text x="234.7" y="798.6">78</text>
<text x="297.8" y="798.6">79</text>
<text x="360.9" y="798.6">80</text>
<text x="424.1" y="798.6">81</text>
<text x="487.2" y="798.6">82</text>
<text x="550.3" y="798.6">83</text>
<text x="613.4" y="798.6">84</text>
<text x="676.5" y="798.6">85</text>
</g>
<g font-size="14.2" text-anchor="end">
<text x="40.6" y="640.0">1.5</text>
<text x="40.6" y="664.2">1</text>
<text x="40.6" y="688.4">0.5</text>
<text x="40.6" y="712.6">0</text>
<text x="40.6" y="736.7">-0.5</text>
<text x="40.6" y="760.9">-1</text>
<text x="40.6" y="785.1">-1.5</text>
</g>
<text x="360.9" y="816.5" font-size="16.0" text-anchor="middle">Time in sec</text>
<text transform="translate(13.3,707.7) rotate(-90)" font-size="16.0" text-anchor="middle">Displacement in mm</text>
<text x="57.5" y="776.7" font-size="29.5" fill="#000">d</text>
<rect x="567.7" y="641.6" width="103.3" height="16.6" fill="#fff" stroke="#4a4a4a" stroke-width="0.6"/>
<path d="M570.3,650.0 h20.8" stroke="#0b2aea" stroke-width="1.60" fill="none"/>
<text x="593.5" y="654.5" font-size="13.0" fill="#000">Filtered signal</text>
</g>
<g>
<path d="M79.30,848.7 V1110.2 M113.30,848.7 V1110.2 M147.30,848.7 V1110.2 M181.30,848.7 V1110.2 M215.30,848.7 V1110.2 M249.30,848.7 V1110.2 M283.30,848.7 V1110.2 M45.3,874.85 H317.3 M45.3,901.00 H317.3 M45.3,927.15 H317.3 M45.3,953.30 H317.3 M45.3,979.45 H317.3 M45.3,1005.60 H317.3 M45.3,1031.75 H317.3 M45.3,1057.90 H317.3 M45.3,1084.05 H317.3" stroke="#e4e4e4" stroke-width="0.7" fill="none"/>
<rect x="69.90" y="1036.98" width="24.31" height="73.22" fill="#3c27a9" stroke="#1f1650" stroke-width="0.6"/>
<rect x="94.21" y="982.07" width="24.31" height="128.13" fill="#3c27a9" stroke="#1f1650" stroke-width="0.6"/>
<rect x="118.52" y="985.99" width="24.31" height="124.21" fill="#3c27a9" stroke="#1f1650" stroke-width="0.6"/>
<rect x="142.83" y="1055.29" width="24.31" height="54.91" fill="#3c27a9" stroke="#1f1650" stroke-width="0.6"/>
<rect x="167.14" y="1070.98" width="24.31" height="39.23" fill="#3c27a9" stroke="#1f1650" stroke-width="0.6"/>
<rect x="191.45" y="1086.66" width="24.31" height="23.54" fill="#3c27a9" stroke="#1f1650" stroke-width="0.6"/>
<rect x="215.76" y="1101.05" width="24.31" height="9.15" fill="#3c27a9" stroke="#1f1650" stroke-width="0.6"/>
<rect x="240.07" y="1104.97" width="24.31" height="5.23" fill="#3c27a9" stroke="#1f1650" stroke-width="0.6"/>
<rect x="264.38" y="1107.59" width="24.31" height="2.62" fill="#3c27a9" stroke="#1f1650" stroke-width="0.6"/>
<rect x="288.69" y="1108.89" width="24.31" height="1.31" fill="#3c27a9" stroke="#1f1650" stroke-width="0.6"/>
<path d="M45.30,1110.2 v-2.6 M45.30,848.7 v2.6 M79.30,1110.2 v-2.6 M79.30,848.7 v2.6 M113.30,1110.2 v-2.6 M113.30,848.7 v2.6 M147.30,1110.2 v-2.6 M147.30,848.7 v2.6 M181.30,1110.2 v-2.6 M181.30,848.7 v2.6 M215.30,1110.2 v-2.6 M215.30,848.7 v2.6 M249.30,1110.2 v-2.6 M249.30,848.7 v2.6 M283.30,1110.2 v-2.6 M283.30,848.7 v2.6 M317.30,1110.2 v-2.6 M317.30,848.7 v2.6 M45.3,848.70 h2.6 M317.3,848.70 h-2.6 M45.3,874.85 h2.6 M317.3,874.85 h-2.6 M45.3,901.00 h2.6 M317.3,901.00 h-2.6 M45.3,927.15 h2.6 M317.3,927.15 h-2.6 M45.3,953.30 h2.6 M317.3,953.30 h-2.6 M45.3,979.45 h2.6 M317.3,979.45 h-2.6 M45.3,1005.60 h2.6 M317.3,1005.60 h-2.6 M45.3,1031.75 h2.6 M317.3,1031.75 h-2.6 M45.3,1057.90 h2.6 M317.3,1057.90 h-2.6 M45.3,1084.05 h2.6 M317.3,1084.05 h-2.6 M45.3,1110.20 h2.6 M317.3,1110.20 h-2.6" stroke="#4a4a4a" stroke-width="0.6" fill="none"/>
<rect x="45.3" y="848.7" width="272.0" height="261.5" fill="none" stroke="#4a4a4a" stroke-width="0.6"/>
<g font-size="14.2" text-anchor="middle">
<text x="45.3" y="1128.1">0</text>
<text x="79.3" y="1128.1">0.2</text>
<text x="113.3" y="1128.1">0.4</text>
<text x="147.3" y="1128.1">0.6</text>
<text x="181.3" y="1128.1">0.8</text>
<text x="215.3" y="1128.1">1</text>
<text x="249.3" y="1128.1">1.2</text>
<text x="283.3" y="1128.1">1.4</text>
<text x="317.3" y="1128.1">1.6</text>
</g>
<g font-size="14.2" text-anchor="end">
<text x="40.5" y="853.9">200</text>
<text x="40.5" y="880.1">180</text>
<text x="40.5" y="906.2">160</text>
<text x="40.5" y="932.4">140</text>
<text x="40.5" y="958.5">120</text>
<text x="40.5" y="984.7">100</text>
<text x="40.5" y="1010.8">80</text>
<text x="40.5" y="1037.0">60</text>
<text x="40.5" y="1063.1">40</text>
<text x="40.5" y="1089.2">20</text>
<text x="40.5" y="1115.4">0</text>
</g>
<text x="181.3" y="1146.2" font-size="16.0" text-anchor="middle">Time in sec</text>
<text transform="translate(14.3,979.5) rotate(-90)" font-size="16.0" text-anchor="middle">No of Occurrences</text>
<text x="54.0" y="869.6" font-size="30.5" fill="#000">e</text>
</g>
<g>
<path d="M438.01,848.7 V1110.2 M472.02,848.7 V1110.2 M506.04,848.7 V1110.2 M540.05,848.7 V1110.2 M574.06,848.7 V1110.2 M608.08,848.7 V1110.2 M642.09,848.7 V1110.2 M404.0,874.85 H676.1 M404.0,901.00 H676.1 M404.0,927.15 H676.1 M404.0,953.30 H676.1 M404.0,979.45 H676.1 M404.0,1005.60 H676.1 M404.0,1031.75 H676.1 M404.0,1057.90 H676.1 M404.0,1084.05 H676.1" stroke="#e4e4e4" stroke-width="0.7" fill="none"/>
<rect x="424.07" y="1064.44" width="18.59" height="45.76" fill="#3c27a9" stroke="#1f1650" stroke-width="0.6"/>
<rect x="442.66" y="953.30" width="18.59" height="156.90" fill="#3c27a9" stroke="#1f1650" stroke-width="0.6"/>
<rect x="461.24" y="884.00" width="18.59" height="226.20" fill="#3c27a9" stroke="#1f1650" stroke-width="0.6"/>
<rect x="479.83" y="978.14" width="18.59" height="132.06" fill="#3c27a9" stroke="#1f1650" stroke-width="0.6"/>
<rect x="498.42" y="1073.59" width="18.59" height="36.61" fill="#3c27a9" stroke="#1f1650" stroke-width="0.6"/>
<rect x="517.01" y="1104.97" width="18.59" height="5.23" fill="#3c27a9" stroke="#1f1650" stroke-width="0.6"/>
<rect x="572.77" y="1108.89" width="18.59" height="1.31" fill="#3c27a9" stroke="#1f1650" stroke-width="0.6"/>
<rect x="591.36" y="1108.89" width="18.59" height="1.31" fill="#3c27a9" stroke="#1f1650" stroke-width="0.6"/>
<path d="M404.00,1110.2 v-2.6 M404.00,848.7 v2.6 M438.01,1110.2 v-2.6 M438.01,848.7 v2.6 M472.02,1110.2 v-2.6 M472.02,848.7 v2.6 M506.04,1110.2 v-2.6 M506.04,848.7 v2.6 M540.05,1110.2 v-2.6 M540.05,848.7 v2.6 M574.06,1110.2 v-2.6 M574.06,848.7 v2.6 M608.08,1110.2 v-2.6 M608.08,848.7 v2.6 M642.09,1110.2 v-2.6 M642.09,848.7 v2.6 M676.10,1110.2 v-2.6 M676.10,848.7 v2.6 M404.0,848.70 h2.6 M676.1,848.70 h-2.6 M404.0,874.85 h2.6 M676.1,874.85 h-2.6 M404.0,901.00 h2.6 M676.1,901.00 h-2.6 M404.0,927.15 h2.6 M676.1,927.15 h-2.6 M404.0,953.30 h2.6 M676.1,953.30 h-2.6 M404.0,979.45 h2.6 M676.1,979.45 h-2.6 M404.0,1005.60 h2.6 M676.1,1005.60 h-2.6 M404.0,1031.75 h2.6 M676.1,1031.75 h-2.6 M404.0,1057.90 h2.6 M676.1,1057.90 h-2.6 M404.0,1084.05 h2.6 M676.1,1084.05 h-2.6 M404.0,1110.20 h2.6 M676.1,1110.20 h-2.6" stroke="#4a4a4a" stroke-width="0.6" fill="none"/>
<rect x="404.0" y="848.7" width="272.1" height="261.5" fill="none" stroke="#4a4a4a" stroke-width="0.6"/>
<g font-size="14.2" text-anchor="middle">
<text x="404.0" y="1128.1">0</text>
<text x="438.0" y="1128.1">0.2</text>
<text x="472.0" y="1128.1">0.4</text>
<text x="506.0" y="1128.1">0.6</text>
<text x="540.0" y="1128.1">0.8</text>
<text x="574.1" y="1128.1">1</text>
<text x="608.1" y="1128.1">1.2</text>
<text x="642.1" y="1128.1">1.4</text>
<text x="676.1" y="1128.1">1.6</text>
</g>
<g font-size="14.2" text-anchor="end">
<text x="399.2" y="853.9">200</text>
<text x="399.2" y="880.1">180</text>
<text x="399.2" y="906.2">160</text>
<text x="399.2" y="932.4">140</text>
<text x="399.2" y="958.5">120</text>
<text x="399.2" y="984.7">100</text>
<text x="399.2" y="1010.8">80</text>
<text x="399.2" y="1037.0">60</text>
<text x="399.2" y="1063.1">40</text>
<text x="399.2" y="1089.2">20</text>
<text x="399.2" y="1115.4">0</text>
</g>
<text x="540.0" y="1146.2" font-size="16.0" text-anchor="middle">Time in sec</text>
<text transform="translate(373.0,979.5) rotate(-90)" font-size="16.0" text-anchor="middle">No of Occurrences</text>
<text x="415.5" y="872.1" font-size="29.5" fill="#000">f</text>
</g>
</svg>
</body></html>
